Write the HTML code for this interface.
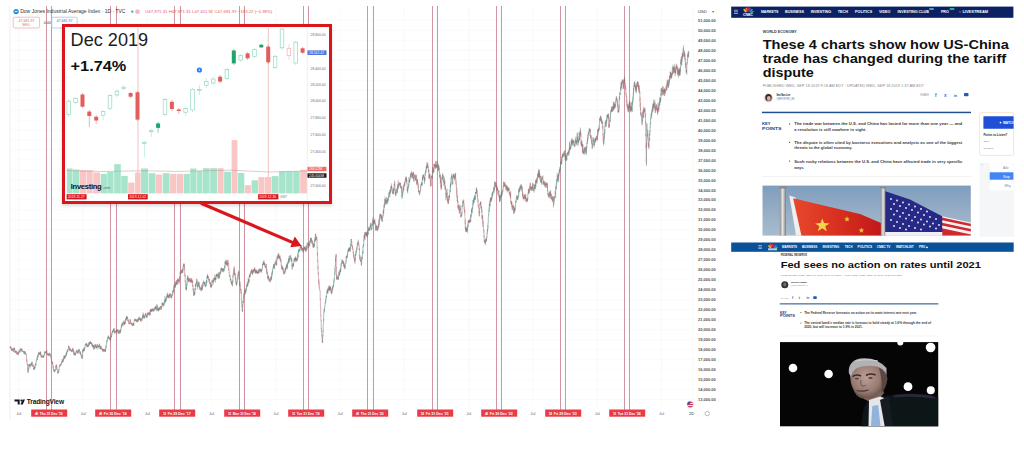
<!DOCTYPE html>
<html><head><meta charset="utf-8">
<style>
*{margin:0;padding:0;box-sizing:border-box}
html,body{width:1024px;height:449px;overflow:hidden;background:#fff;font-family:"Liberation Sans",sans-serif}
.abs{position:absolute}
svg text{font-family:"Liberation Sans",sans-serif}
#chart{position:absolute;left:0;top:0}
.nav{position:absolute;color:#fff;font-weight:bold;white-space:nowrap}
.nav span{position:absolute;top:0}
.t{position:absolute;white-space:nowrap}
</style></head>
<body>
<svg id="chart" width="1024" height="449" viewBox="0 0 1024 449">
  <line x1="10" x2="10" y1="6" y2="420" stroke="#e3e6ec" stroke-width="0.7"/>
  <line x1="10" x2="694" y1="399.5" y2="399.5" stroke="#f5f6f9" stroke-width="0.6"/><line x1="10" x2="694" y1="389.6" y2="389.6" stroke="#f5f6f9" stroke-width="0.6"/><line x1="10" x2="694" y1="379.6" y2="379.6" stroke="#f5f6f9" stroke-width="0.6"/><line x1="10" x2="694" y1="369.6" y2="369.6" stroke="#f5f6f9" stroke-width="0.6"/><line x1="10" x2="694" y1="359.6" y2="359.6" stroke="#f5f6f9" stroke-width="0.6"/><line x1="10" x2="694" y1="349.6" y2="349.6" stroke="#f5f6f9" stroke-width="0.6"/><line x1="10" x2="694" y1="339.7" y2="339.7" stroke="#f5f6f9" stroke-width="0.6"/><line x1="10" x2="694" y1="329.7" y2="329.7" stroke="#f5f6f9" stroke-width="0.6"/><line x1="10" x2="694" y1="319.7" y2="319.7" stroke="#f5f6f9" stroke-width="0.6"/><line x1="10" x2="694" y1="309.7" y2="309.7" stroke="#f5f6f9" stroke-width="0.6"/><line x1="10" x2="694" y1="299.7" y2="299.7" stroke="#f5f6f9" stroke-width="0.6"/><line x1="10" x2="694" y1="289.8" y2="289.8" stroke="#f5f6f9" stroke-width="0.6"/><line x1="10" x2="694" y1="279.8" y2="279.8" stroke="#f5f6f9" stroke-width="0.6"/><line x1="10" x2="694" y1="269.8" y2="269.8" stroke="#f5f6f9" stroke-width="0.6"/><line x1="10" x2="694" y1="259.8" y2="259.8" stroke="#f5f6f9" stroke-width="0.6"/><line x1="10" x2="694" y1="249.8" y2="249.8" stroke="#f5f6f9" stroke-width="0.6"/><line x1="10" x2="694" y1="239.9" y2="239.9" stroke="#f5f6f9" stroke-width="0.6"/><line x1="10" x2="694" y1="229.9" y2="229.9" stroke="#f5f6f9" stroke-width="0.6"/><line x1="10" x2="694" y1="219.9" y2="219.9" stroke="#f5f6f9" stroke-width="0.6"/><line x1="10" x2="694" y1="209.9" y2="209.9" stroke="#f5f6f9" stroke-width="0.6"/><line x1="10" x2="694" y1="199.9" y2="199.9" stroke="#f5f6f9" stroke-width="0.6"/><line x1="10" x2="694" y1="190.0" y2="190.0" stroke="#f5f6f9" stroke-width="0.6"/><line x1="10" x2="694" y1="180.0" y2="180.0" stroke="#f5f6f9" stroke-width="0.6"/><line x1="10" x2="694" y1="170.0" y2="170.0" stroke="#f5f6f9" stroke-width="0.6"/><line x1="10" x2="694" y1="160.0" y2="160.0" stroke="#f5f6f9" stroke-width="0.6"/><line x1="10" x2="694" y1="150.0" y2="150.0" stroke="#f5f6f9" stroke-width="0.6"/><line x1="10" x2="694" y1="140.1" y2="140.1" stroke="#f5f6f9" stroke-width="0.6"/><line x1="10" x2="694" y1="130.1" y2="130.1" stroke="#f5f6f9" stroke-width="0.6"/><line x1="10" x2="694" y1="120.1" y2="120.1" stroke="#f5f6f9" stroke-width="0.6"/><line x1="10" x2="694" y1="110.1" y2="110.1" stroke="#f5f6f9" stroke-width="0.6"/><line x1="10" x2="694" y1="100.1" y2="100.1" stroke="#f5f6f9" stroke-width="0.6"/><line x1="10" x2="694" y1="90.2" y2="90.2" stroke="#f5f6f9" stroke-width="0.6"/><line x1="10" x2="694" y1="80.2" y2="80.2" stroke="#f5f6f9" stroke-width="0.6"/><line x1="10" x2="694" y1="70.2" y2="70.2" stroke="#f5f6f9" stroke-width="0.6"/><line x1="10" x2="694" y1="60.2" y2="60.2" stroke="#f5f6f9" stroke-width="0.6"/><line x1="10" x2="694" y1="50.2" y2="50.2" stroke="#f5f6f9" stroke-width="0.6"/><line x1="10" x2="694" y1="40.3" y2="40.3" stroke="#f5f6f9" stroke-width="0.6"/><line x1="10" x2="694" y1="30.3" y2="30.3" stroke="#f5f6f9" stroke-width="0.6"/><line x1="10" x2="694" y1="20.3" y2="20.3" stroke="#f5f6f9" stroke-width="0.6"/><line x1="18.7" x2="18.7" y1="6" y2="405" stroke="#f4f5f8" stroke-width="0.6"/><line x1="50.8" x2="50.8" y1="6" y2="405" stroke="#f4f5f8" stroke-width="0.6"/><line x1="83.0" x2="83.0" y1="6" y2="405" stroke="#f4f5f8" stroke-width="0.6"/><line x1="115.1" x2="115.1" y1="6" y2="405" stroke="#f4f5f8" stroke-width="0.6"/><line x1="147.3" x2="147.3" y1="6" y2="405" stroke="#f4f5f8" stroke-width="0.6"/><line x1="179.4" x2="179.4" y1="6" y2="405" stroke="#f4f5f8" stroke-width="0.6"/><line x1="211.5" x2="211.5" y1="6" y2="405" stroke="#f4f5f8" stroke-width="0.6"/><line x1="243.7" x2="243.7" y1="6" y2="405" stroke="#f4f5f8" stroke-width="0.6"/><line x1="275.8" x2="275.8" y1="6" y2="405" stroke="#f4f5f8" stroke-width="0.6"/><line x1="308.0" x2="308.0" y1="6" y2="405" stroke="#f4f5f8" stroke-width="0.6"/><line x1="340.1" x2="340.1" y1="6" y2="405" stroke="#f4f5f8" stroke-width="0.6"/><line x1="372.2" x2="372.2" y1="6" y2="405" stroke="#f4f5f8" stroke-width="0.6"/><line x1="404.4" x2="404.4" y1="6" y2="405" stroke="#f4f5f8" stroke-width="0.6"/><line x1="436.5" x2="436.5" y1="6" y2="405" stroke="#f4f5f8" stroke-width="0.6"/><line x1="468.7" x2="468.7" y1="6" y2="405" stroke="#f4f5f8" stroke-width="0.6"/><line x1="500.8" x2="500.8" y1="6" y2="405" stroke="#f4f5f8" stroke-width="0.6"/><line x1="532.9" x2="532.9" y1="6" y2="405" stroke="#f4f5f8" stroke-width="0.6"/><line x1="565.1" x2="565.1" y1="6" y2="405" stroke="#f4f5f8" stroke-width="0.6"/><line x1="597.2" x2="597.2" y1="6" y2="405" stroke="#f4f5f8" stroke-width="0.6"/><line x1="629.4" x2="629.4" y1="6" y2="405" stroke="#f4f5f8" stroke-width="0.6"/><line x1="661.5" x2="661.5" y1="6" y2="405" stroke="#f4f5f8" stroke-width="0.6"/><line x1="693.6" x2="693.6" y1="6" y2="405" stroke="#f4f5f8" stroke-width="0.6"/>
  <g stroke="#d294a0" stroke-width="1"><line x1="46.5" x2="46.5" y1="6" y2="410" /><line x1="51.5" x2="51.5" y1="6" y2="410" /><line x1="110.5" x2="110.5" y1="6" y2="410" /><line x1="116.5" x2="116.5" y1="6" y2="410" /><line x1="174.5" x2="174.5" y1="6" y2="410" /><line x1="180.5" x2="180.5" y1="6" y2="410" /><line x1="239.5" x2="239.5" y1="6" y2="410" /><line x1="244.5" x2="244.5" y1="6" y2="410" /><line x1="303.5" x2="303.5" y1="6" y2="410" /><line x1="308.5" x2="308.5" y1="6" y2="410" /><line x1="367.5" x2="367.5" y1="6" y2="410" /><line x1="373.5" x2="373.5" y1="6" y2="410" /><line x1="432.5" x2="432.5" y1="6" y2="410" /><line x1="437.5" x2="437.5" y1="6" y2="410" /><line x1="496.5" x2="496.5" y1="6" y2="410" /><line x1="501.5" x2="501.5" y1="6" y2="410" /><line x1="560.5" x2="560.5" y1="6" y2="410" /><line x1="565.5" x2="565.5" y1="6" y2="410" /><line x1="624.5" x2="624.5" y1="6" y2="410" /><line x1="629.5" x2="629.5" y1="6" y2="410" /></g>
  <path d="M10.1 346.6V348.5M11.9 349.4V351.1M12.2 349.5V350.7M12.4 348.1V349.5M13.7 349.4V351.8M14.0 347.8V350.2M14.2 347.4V349.2M15.5 350.9V352.6M16.8 353.1V354.1M17.3 352.7V354.6M17.5 352.6V354.0M17.8 352.1V353.2M18.3 352.3V355.3M18.8 352.4V352.9M19.1 351.3V353.1M19.3 350.4V352.1M20.1 351.1V352.4M20.3 348.2V351.3M20.9 348.4V350.0M21.6 350.0V351.4M21.9 349.0V350.6M22.6 351.1V351.6M23.2 351.2V352.2M23.4 351.1V351.7M23.9 352.6V353.7M24.2 352.7V353.7M24.4 351.2V353.0M24.7 351.2V354.6M24.9 351.4V353.4M25.7 353.1V354.1M28.3 368.0V372.4M28.5 365.2V370.1M28.8 364.1V366.6M29.3 364.2V365.7M30.0 365.0V367.1M30.3 364.8V365.7M31.3 362.8V366.0M31.6 362.3V364.5M34.4 366.9V369.6M34.6 366.1V369.7M35.1 364.7V368.2M35.4 364.1V365.2M35.7 363.2V365.2M35.9 362.4V365.7M36.2 360.8V362.5M36.4 360.6V361.5M36.7 358.6V361.0M37.2 357.1V359.8M37.4 355.8V359.9M37.7 355.3V356.6M38.2 354.7V357.0M38.5 353.2V355.0M38.7 352.2V353.9M39.2 353.4V354.7M39.5 353.3V354.4M39.7 352.5V354.1M40.0 351.6V355.1M40.5 351.5V355.5M41.3 356.5V357.4M41.5 355.6V357.6M41.8 355.1V356.3M42.8 356.4V357.7M43.1 356.1V357.9M43.3 356.2V357.9M43.6 355.7V357.2M43.8 354.9V356.5M44.1 354.8V356.4M44.3 354.1V355.1M44.6 352.2V355.0M44.8 350.7V353.7M45.6 352.2V352.9M45.9 351.5V353.1M46.4 352.1V352.4M46.6 350.4V353.0M47.6 353.6V354.7M48.4 354.1V355.9M48.7 353.6V355.0M49.2 353.4V356.1M49.4 353.2V354.8M49.9 354.3V354.9M50.5 355.0V356.7M53.8 368.7V370.7M54.8 369.6V371.9M55.0 370.3V371.1M55.3 369.2V371.1M55.6 366.9V369.5M55.8 365.7V367.3M56.1 364.9V366.8M57.9 372.0V373.7M58.4 370.9V372.9M58.6 370.2V371.2M58.9 369.0V371.9M59.1 367.3V369.8M59.4 366.5V367.4M59.6 364.7V367.4M60.4 363.9V366.3M60.9 364.1V365.3M61.4 363.3V364.6M61.7 362.1V364.1M61.9 360.9V363.3M62.4 361.0V362.3M63.0 359.4V362.1M63.2 358.4V361.4M63.7 357.1V359.4M64.0 355.5V358.6M64.2 355.4V357.5M64.7 355.6V358.9M65.5 355.5V357.5M65.8 355.3V356.6M66.0 353.1V355.9M66.5 352.2V356.0M66.8 351.5V353.9M67.0 350.7V353.2M67.3 350.5V351.7M67.8 349.1V351.6M68.1 349.1V350.5M68.3 348.6V349.4M68.6 345.6V348.2M69.8 349.4V351.1M70.1 348.3V349.8M70.4 348.3V349.4M71.4 349.9V350.9M72.1 350.4V351.8M72.4 348.7V350.8M72.9 348.9V349.9M73.9 352.2V353.6M74.7 353.2V355.5M75.5 353.7V355.2M75.7 352.0V354.4M76.5 350.2V353.3M77.2 350.7V352.5M77.5 351.5V352.8M78.3 351.1V352.9M78.5 349.5V351.9M78.8 349.4V350.8M79.3 349.6V350.6M80.3 352.2V353.6M82.1 357.4V359.0M82.4 355.0V358.4M82.6 350.5V356.9M82.9 349.1V352.5M83.4 348.9V351.1M83.6 348.6V350.6M84.4 347.6V350.8M84.6 347.5V348.3M84.9 346.4V348.7M85.2 344.4V346.4M85.7 343.9V345.4M85.9 343.8V345.5M86.2 343.4V345.2M86.4 343.3V344.7M86.9 345.8V347.2M87.2 344.4V346.6M88.0 345.2V347.2M88.2 344.6V347.2M88.5 344.9V346.1M88.7 342.8V345.2M89.2 343.3V345.0M89.5 341.7V345.4M89.7 342.1V343.7M90.0 342.1V343.5M90.3 340.8V343.3M90.8 342.0V344.1M91.3 342.8V343.9M91.5 342.3V344.8M92.6 344.2V347.3M92.8 344.8V345.9M93.6 345.0V349.6M93.8 345.6V346.8M94.1 344.9V347.0M94.6 347.1V348.9M94.9 346.7V348.2M95.1 345.4V347.9M95.6 344.4V346.8M95.9 344.0V346.6M96.4 346.5V347.6M96.6 346.1V348.2M97.1 345.6V349.4M97.4 344.0V346.5M98.2 345.7V346.8M98.4 345.8V348.4M98.9 346.1V347.3M99.2 344.9V347.5M99.4 343.4V345.3M100.2 347.0V349.5M100.5 347.1V349.0M100.7 346.1V348.9M102.5 349.4V350.5M103.0 350.5V352.2M103.3 349.2V351.5M103.5 349.5V351.2M103.8 348.8V350.6M104.0 349.3V350.4M104.5 350.3V351.0M105.3 349.2V351.6M105.6 348.1V352.0M105.8 345.8V349.0M106.1 345.3V347.9M106.3 344.0V346.3M106.6 342.3V343.8M106.8 340.4V343.5M107.1 339.6V341.8M107.4 339.4V341.1M107.6 337.1V339.5M107.9 336.6V339.2M108.1 337.0V338.0M108.4 335.6V337.6M109.1 337.6V338.9M109.7 338.1V339.9M109.9 338.1V338.9M110.7 335.9V340.1M110.9 335.2V338.7M111.7 333.0V336.8M111.9 332.4V335.0M112.2 331.1V332.3M112.5 331.1V333.1M112.7 329.9V332.1M113.5 329.3V332.1M113.7 328.7V330.7M114.0 328.5V330.5M114.8 332.0V333.9M115.0 331.8V332.5M115.3 331.4V332.4M116.3 330.4V333.7M116.5 329.8V330.9M117.3 329.2V333.4M118.1 329.3V331.5M118.3 330.0V331.7M119.1 331.9V334.0M119.3 331.1V334.1M120.1 330.5V331.9M120.6 329.1V333.5M120.9 328.4V330.4M121.1 327.4V328.7M121.4 324.6V327.9M121.9 324.0V326.7M122.2 323.2V325.6M122.4 323.2V324.4M122.7 321.9V324.2M122.9 323.5V325.5M123.4 322.7V323.6M123.9 320.3V323.2M124.7 321.9V324.9M125.0 322.1V324.2M125.2 320.7V323.5M125.5 318.4V322.3M125.7 318.6V319.0M126.2 317.5V320.2M126.5 315.7V319.1M127.0 317.5V319.0M127.3 316.3V318.8M129.3 323.0V324.2M129.8 320.3V322.8M130.1 319.0V320.7M131.6 323.3V324.6M131.8 322.7V324.4M132.6 325.0V325.7M133.1 324.4V326.2M133.4 323.6V325.5M133.6 322.9V325.6M133.9 321.9V325.0M134.1 320.4V321.7M134.4 319.4V320.9M134.9 318.7V320.1M135.7 319.7V320.5M136.4 319.7V321.8M137.5 320.3V322.5M137.7 319.3V320.4M138.0 318.9V319.6M138.5 318.9V321.2M139.0 316.5V319.6M139.2 317.6V320.3M141.3 319.2V321.6M141.8 319.8V320.3M142.1 317.0V320.5M142.3 316.8V319.0M142.6 315.0V318.2M143.1 312.3V316.3M143.8 316.5V318.8M144.1 315.6V318.5M144.6 315.7V318.3M144.9 315.2V317.7M145.4 313.9V315.2M146.1 314.5V316.9M146.6 315.9V318.1M147.4 312.4V317.4M147.9 313.0V314.9M148.2 312.9V314.7M149.5 313.3V313.9M150.0 310.9V315.1M150.2 310.1V315.1M151.2 308.8V311.7M151.8 309.6V312.1M152.8 308.4V311.2M153.5 309.5V311.3M153.8 310.1V311.9M154.0 309.4V310.9M154.3 307.7V310.7M154.6 307.5V308.7M155.6 305.8V308.2M156.6 306.4V311.1M156.9 304.1V307.8M157.9 309.7V311.0M158.1 308.2V310.4M158.4 309.0V311.7M158.6 307.5V310.6M158.9 308.0V308.8M159.4 307.5V309.3M159.9 308.2V310.1M160.2 306.8V309.1M160.4 306.3V307.1M160.7 306.4V307.6M161.2 306.6V310.0M161.4 307.3V308.0M161.7 305.0V308.3M162.0 302.2V305.5M163.2 305.0V305.4M163.5 304.6V305.7M163.7 303.3V304.9M164.0 302.8V305.8M164.3 300.5V304.4M164.8 300.2V303.3M165.0 295.9V302.7M165.8 298.6V302.1M166.0 299.4V300.8M166.3 297.5V300.3M166.6 297.6V299.2M166.8 295.5V298.1M167.1 294.5V297.5M167.3 293.4V297.2M168.1 295.5V297.9M168.8 294.7V297.8M169.4 293.1V296.2M169.6 294.8V297.3M169.9 294.1V295.6M170.1 293.6V295.3M171.1 295.0V298.1M171.4 296.6V298.2M171.9 294.0V296.3M172.4 293.3V295.6M172.7 290.9V294.5M172.9 290.8V292.2M173.2 289.7V293.4M173.7 286.4V292.1M173.9 286.5V288.9M174.2 284.0V287.3M174.5 284.6V286.3M174.7 284.7V286.6M175.5 283.9V287.9M175.7 281.1V284.7M176.2 283.2V284.7M176.8 281.4V285.2M177.0 280.1V282.6M177.5 282.0V284.6M177.8 278.1V281.0M179.3 278.4V282.1M179.6 276.4V280.7M179.8 276.8V278.2M180.1 272.5V277.8M180.8 271.6V273.3M181.1 269.5V273.5M181.9 271.5V272.0M182.1 270.3V271.6M182.6 269.0V273.0M182.9 268.3V272.8M183.1 266.3V269.8M183.4 265.0V267.2M183.6 263.7V266.1M186.5 286.1V289.9M186.7 283.1V288.6M187.0 282.0V286.1M187.2 278.2V283.0M187.5 276.6V280.4M187.7 275.1V279.5M188.5 279.6V281.1M188.7 278.6V282.1M189.3 279.1V282.2M189.8 278.9V281.2M191.0 280.0V281.9M191.6 278.4V282.3M192.1 280.9V283.2M192.8 285.0V285.5M193.9 291.6V295.6M194.6 292.0V295.4M194.9 288.2V293.8M195.1 288.6V289.5M195.4 284.5V290.4M195.6 283.9V286.3M195.9 283.7V286.9M196.1 282.2V285.5M196.4 282.3V284.2M196.7 278.7V282.3M197.7 284.0V287.2M197.9 285.8V287.1M198.2 284.1V287.0M198.4 281.3V286.8M200.0 286.7V289.9M201.3 287.8V291.3M201.5 287.6V289.2M201.8 285.3V290.2M202.5 284.2V290.1M202.8 283.0V284.1M203.0 282.2V283.6M203.3 280.6V283.0M204.1 282.8V285.7M204.6 282.2V284.0M204.8 281.5V285.1M205.6 284.9V287.3M205.8 285.3V286.3M206.1 284.0V286.2M206.4 280.8V285.0M206.6 280.0V283.5M206.9 276.7V282.6M207.1 276.1V278.3M207.4 274.3V278.3M207.9 275.7V277.3M208.4 277.1V278.3M209.9 281.8V283.6M210.4 282.3V286.0M211.2 284.3V287.4M211.7 284.3V287.1M212.0 280.2V285.8M212.7 280.8V282.4M213.2 280.2V284.7M213.5 279.5V281.8M213.8 277.8V281.6M214.0 277.8V280.9M214.5 277.5V279.9M215.3 278.1V282.7M215.5 277.6V279.7M215.8 276.6V279.4M216.0 274.8V279.4M216.3 275.4V276.5M216.6 274.1V276.7M216.8 273.4V276.5M217.6 274.9V276.3M218.3 274.9V279.0M218.6 272.3V276.8M219.6 272.8V277.6M219.9 272.6V275.5M220.1 271.1V273.6M220.6 270.7V274.0M220.9 267.8V272.3M221.7 268.2V270.8M222.2 269.6V271.4M222.7 268.3V272.1M223.7 268.6V270.8M224.2 269.1V271.3M224.5 267.1V269.1M224.7 265.1V267.9M225.0 261.1V268.5M225.2 261.6V263.8M226.0 259.8V265.1M227.3 264.0V266.3M227.5 262.1V266.3M230.3 277.9V280.7M231.6 281.2V284.2M232.6 280.2V286.5M232.9 276.0V282.8M233.1 273.7V277.4M233.4 271.8V275.8M233.7 269.9V272.9M233.9 267.9V271.5M236.5 282.7V286.0M236.7 282.4V284.6M237.0 279.8V284.1M237.2 278.7V282.2M237.7 275.3V279.5M238.0 273.8V277.1M238.2 272.4V275.5M238.5 271.3V273.8M239.8 281.2V286.3M242.6 304.0V311.9M242.8 300.6V305.5M243.1 300.9V302.9M243.4 297.5V302.6M243.6 295.1V298.9M243.9 293.9V297.3M244.4 293.2V294.3M244.6 290.5V294.5M244.9 290.2V291.9M245.6 289.9V293.7M245.9 288.8V292.2M246.2 288.4V290.9M246.4 286.3V289.5M246.7 285.1V287.6M246.9 283.7V286.4M247.4 284.8V286.1M247.7 282.0V287.1M247.9 281.1V285.4M248.2 277.8V281.8M248.7 280.4V282.3M249.0 279.6V283.2M249.2 275.5V281.1M249.7 274.1V277.1M250.0 274.9V277.6M250.2 273.3V276.7M250.7 271.2V273.9M251.3 270.7V274.0M251.8 270.7V272.1M252.5 271.4V274.7M252.8 270.8V273.2M253.6 268.8V271.3M254.3 268.3V271.0M254.6 267.2V270.5M255.3 270.3V273.6M255.6 270.9V272.8M256.4 270.3V272.9M257.1 271.8V273.0M257.4 272.2V273.3M258.1 271.5V273.9M258.7 269.1V273.1M259.2 269.5V272.7M259.4 268.4V270.7M260.2 269.5V270.7M260.4 268.8V270.8M261.2 270.1V273.0M261.5 269.2V272.1M261.7 270.0V270.7M262.0 268.7V270.5M262.2 267.1V269.5M262.5 264.1V267.9M262.7 263.5V265.4M263.3 261.7V265.0M263.5 261.6V263.9M263.8 261.7V265.1M264.0 260.1V263.8M265.3 266.7V267.2M266.1 264.2V268.7M267.1 271.6V274.3M268.1 275.8V278.8M268.6 276.9V278.1M269.1 279.0V280.7M270.4 280.2V281.3M270.7 277.0V281.3M270.9 277.2V279.7M271.4 276.5V279.5M271.7 273.9V278.5M271.9 272.1V276.3M272.2 272.6V273.8M272.4 270.0V274.3M272.7 268.2V272.3M272.9 268.4V268.8M273.2 266.2V268.6M273.5 264.0V267.6M274.2 266.3V269.0M274.5 264.0V268.5M274.7 263.6V266.5M275.0 262.2V264.8M275.5 263.0V264.7M275.8 259.8V263.6M276.8 258.3V265.5M277.0 256.9V259.4M277.8 254.9V259.5M278.1 255.6V257.2M278.3 253.2V257.0M279.1 256.0V258.4M279.6 256.1V258.5M280.3 258.1V259.5M280.9 259.5V262.4M281.9 268.1V269.4M282.1 268.3V269.0M282.4 267.0V269.7M283.7 273.4V274.5M283.9 272.6V273.7M284.2 270.8V273.0M284.4 271.8V272.9M284.9 269.1V273.5M285.5 267.5V271.7M285.7 267.3V269.0M286.2 265.1V269.7M286.5 263.5V267.4M286.7 265.2V266.5M287.5 263.5V268.9M287.7 262.1V265.8M288.0 261.1V263.9M288.3 260.6V263.1M288.5 259.0V262.8M288.8 258.0V263.4M289.0 255.9V259.3M289.8 259.4V262.0M290.0 255.4V259.9M290.3 255.5V257.1M290.8 257.4V259.1M292.3 265.5V269.6M292.6 263.4V266.4M292.8 264.0V266.3M293.6 262.4V266.1M293.9 260.5V262.2M294.1 258.8V262.4M294.4 258.1V260.5M294.6 258.8V260.7M295.1 257.5V260.3M295.4 256.8V259.9M295.9 258.4V260.4M296.2 258.2V262.2M296.9 257.8V261.1M297.2 258.5V260.5M297.4 256.4V260.1M297.7 253.3V256.6M298.2 251.3V258.1M298.5 249.9V252.5M298.7 249.3V252.6M299.0 250.7V252.6M299.2 248.7V250.7M299.7 249.1V250.8M300.0 247.3V251.5M300.5 245.5V248.3M301.0 245.7V247.4M301.8 247.3V250.9M302.3 248.5V250.7M303.6 248.7V251.3M303.8 248.0V250.5M304.3 246.6V249.5M305.1 247.6V250.0M305.4 247.4V250.1M305.9 248.8V251.3M306.4 247.8V251.3M306.9 244.8V249.5M307.1 242.5V248.5M307.6 244.6V245.4M308.7 241.9V247.6M308.9 242.6V245.0M309.4 243.8V245.8M309.7 241.9V246.1M309.9 240.5V243.3M310.2 240.0V242.4M310.5 238.1V242.4M311.0 237.8V241.4M312.0 241.2V243.1M313.5 243.0V247.6M313.8 245.9V247.0M314.0 244.0V247.7M314.5 240.3V246.5M314.8 238.8V242.4M315.0 237.0V241.5M315.3 233.8V240.0M316.1 237.8V240.1M316.6 236.7V239.7M322.7 335.0V342.8M323.0 330.5V335.9M323.2 324.0V331.9M323.5 319.4V323.9M323.7 311.9V320.5M324.0 308.8V312.2M324.5 306.5V312.3M324.7 306.7V307.3M325.0 303.1V306.6M325.3 302.3V303.6M325.5 300.5V303.4M325.8 298.7V302.4M326.0 296.3V300.1M326.3 295.4V298.1M326.5 294.3V297.4M326.8 292.1V294.0M327.0 290.5V293.0M327.3 289.9V292.4M327.8 289.5V293.8M328.1 287.6V291.7M328.6 288.5V290.5M328.8 287.0V289.3M329.1 285.0V288.3M329.6 287.6V290.4M330.1 286.9V291.3M331.9 290.2V292.4M332.1 287.8V293.2M332.4 286.1V289.8M332.9 286.8V288.5M333.2 284.7V287.5M333.4 284.4V286.7M333.7 281.7V286.1M333.9 279.6V282.9M334.2 278.6V281.7M334.4 276.4V279.3M334.7 272.7V276.4M334.9 267.7V275.0M335.2 265.3V272.7M335.5 258.2V266.2M335.7 256.3V261.5M336.0 254.2V257.6M336.7 275.7V279.9M337.2 278.0V279.4M337.5 276.6V278.2M338.3 276.5V278.8M338.5 275.0V280.0M338.8 271.5V276.8M339.5 273.5V275.4M339.8 270.0V274.8M340.1 269.4V272.6M340.6 267.4V272.1M340.8 266.6V270.4M341.1 263.6V267.2M341.3 263.6V266.1M341.6 262.3V264.2M341.8 260.2V262.8M342.1 259.2V260.6M342.6 261.1V263.6M343.4 260.6V264.1M344.4 267.0V268.8M344.6 264.2V267.7M345.2 265.0V268.4M345.4 264.2V265.8M345.7 262.8V264.1M345.9 260.3V263.6M346.2 256.0V262.2M346.4 255.8V258.7M347.2 255.5V257.9M347.5 253.2V256.4M347.7 251.2V254.9M348.0 249.7V251.2M348.5 248.4V252.1M349.0 247.7V250.9M349.7 247.4V251.6M350.3 247.6V251.0M350.5 244.1V248.6M350.8 243.4V245.6M351.0 239.2V245.5M353.8 255.1V256.4M355.1 257.4V262.2M355.4 253.7V259.9M355.6 254.2V256.1M355.9 250.8V255.3M356.1 250.8V254.2M356.4 249.4V252.1M356.6 248.4V250.3M356.9 246.9V248.5M357.1 244.6V250.0M357.4 242.1V246.1M357.7 243.0V244.6M358.2 239.7V243.0M358.7 243.2V244.1M361.5 262.5V266.0M361.7 256.9V263.4M362.0 256.5V259.8M362.3 254.6V259.1M362.5 252.2V254.8M362.8 250.3V254.1M363.0 245.6V253.0M363.3 244.9V247.7M363.8 239.4V245.1M364.0 235.3V241.1M364.3 234.5V237.7M364.8 236.8V238.5M365.1 234.0V239.6M365.3 232.1V235.4M365.8 233.6V235.3M366.3 233.6V236.2M366.8 231.5V236.0M367.4 232.9V237.6M368.1 232.7V234.9M368.4 228.8V234.1M368.6 226.7V231.0M369.1 228.0V229.6M369.4 227.7V230.6M369.9 226.9V231.1M370.2 224.8V227.6M370.4 224.4V227.4M370.7 223.2V225.3M371.4 228.3V229.9M371.7 227.5V230.1M371.9 223.6V228.8M372.2 223.5V226.5M372.5 221.2V225.6M372.7 219.1V221.8M373.5 220.2V223.6M374.0 221.0V224.8M374.2 219.6V223.8M375.5 223.1V230.6M376.3 224.9V230.5M377.6 226.4V230.0M378.1 225.9V230.1M378.8 219.7V227.4M379.3 217.7V225.1M379.6 215.7V221.1M379.9 214.1V218.2M380.6 215.1V215.8M381.4 216.2V220.4M382.4 218.3V221.8M382.7 216.9V218.5M382.9 215.1V217.4M383.2 210.8V216.2M383.4 210.0V213.3M383.7 208.8V214.5M383.9 205.5V210.1M384.4 202.2V208.0M384.7 199.0V205.2M385.2 200.3V200.9M386.0 200.5V204.1M386.5 201.8V203.6M386.7 197.2V202.5M387.3 200.1V201.6M387.8 199.5V203.7M388.0 198.5V201.0M388.3 197.7V200.5M388.5 196.4V197.7M388.8 192.6V198.4M389.0 193.8V196.8M389.3 192.4V194.5M389.6 191.3V193.9M389.8 189.6V197.2M390.3 190.2V192.9M390.6 188.8V192.3M391.1 185.9V191.5M392.9 191.5V193.4M393.1 189.8V192.2M393.4 187.4V194.5M393.6 189.0V193.8M394.1 184.3V191.0M394.4 182.3V185.3M395.9 192.4V195.8M396.2 191.3V193.8M396.4 189.9V190.8M396.7 189.1V193.6M397.5 184.8V192.9M397.7 186.6V189.1M398.0 184.1V187.9M398.5 184.2V188.9M398.7 184.7V185.8M399.0 182.5V184.0M399.5 183.6V185.0M399.8 183.0V185.1M400.3 182.9V185.2M401.3 186.5V189.6M402.1 194.3V198.9M402.3 194.7V196.7M402.6 192.0V195.7M402.8 189.6V194.4M403.1 186.8V192.2M403.6 187.6V189.9M403.8 184.9V189.7M404.1 184.2V185.9M404.4 181.9V185.9M404.9 182.4V185.2M405.1 181.6V182.8M405.4 179.2V181.9M405.9 176.2V180.8M407.4 189.4V192.2M407.7 187.0V193.3M407.9 187.1V190.3M408.2 186.4V188.1M408.4 184.7V188.0M408.7 183.6V186.4M408.9 177.0V185.1M409.2 180.4V182.8M409.5 179.0V182.7M409.7 179.6V182.2M410.0 177.9V180.3M410.2 176.1V179.1M410.5 173.1V176.9M411.0 172.8V178.1M411.2 175.1V177.4M411.5 170.8V175.4M412.5 174.6V177.3M412.8 172.9V179.0M413.3 172.4V175.4M414.0 177.7V182.0M414.3 177.1V178.2M415.6 177.6V180.6M416.1 174.4V178.8M417.1 179.5V184.7M419.7 191.1V195.2M419.9 190.6V193.9M420.4 187.7V191.4M420.7 185.9V189.3M420.9 184.7V187.0M421.2 183.3V185.9M421.7 182.1V185.2M422.2 178.6V185.6M422.5 177.0V180.4M422.7 174.8V180.1M424.5 177.1V183.8M425.0 173.2V180.7M425.3 172.2V175.6M425.5 171.2V172.4M425.8 170.0V172.8M426.0 167.4V172.9M426.3 166.4V168.2M426.5 165.5V169.7M427.1 165.4V167.8M427.3 163.6V166.8M427.6 163.9V165.8M428.6 169.8V172.3M429.4 173.2V176.4M429.6 173.8V178.3M430.1 175.9V178.7M431.1 181.3V186.0M431.4 175.9V181.5M432.4 170.9V179.1M432.7 167.0V173.5M433.4 169.8V173.2M433.9 164.2V172.3M434.2 163.8V167.2M435.2 164.6V168.8M435.7 161.2V168.8M436.2 165.8V167.5M436.5 165.1V167.5M437.0 161.3V167.8M438.0 165.5V170.7M438.5 165.4V170.8M439.1 165.7V169.5M440.1 174.2V178.6M441.3 183.8V189.2M441.6 181.3V188.3M441.9 177.3V181.8M442.1 176.6V180.0M442.4 175.4V179.4M442.6 173.3V177.3M443.9 181.9V185.9M444.4 176.9V185.6M446.2 195.8V198.2M446.5 195.7V196.7M446.7 189.2V196.8M448.5 199.0V203.8M449.0 195.1V200.6M449.3 195.6V197.8M449.5 193.1V198.4M449.8 191.5V193.2M450.0 189.1V192.1M450.3 184.2V192.2M450.5 183.6V188.2M450.8 181.6V186.4M451.0 178.1V184.6M451.3 176.1V179.9M451.6 173.7V178.1M452.6 182.4V184.7M452.8 176.3V184.3M453.1 174.5V178.9M453.3 173.6V177.4M454.4 176.7V178.5M454.9 174.6V180.8M455.4 172.9V177.7M458.4 206.6V209.1M459.5 209.0V212.8M459.7 204.7V209.8M461.0 214.6V217.6M461.2 214.8V217.3M461.8 212.0V215.7M462.0 205.8V213.5M462.3 205.2V206.8M462.5 202.4V206.7M462.8 201.1V202.7M463.5 200.8V203.9M466.1 227.6V230.8M466.6 227.7V231.9M467.4 228.7V233.1M467.6 225.2V230.1M467.9 223.7V227.5M468.1 221.4V226.9M468.4 220.2V222.6M469.4 220.1V222.4M469.9 218.2V221.9M470.7 214.1V222.2M470.9 214.9V218.3M471.2 214.7V216.9M471.5 209.3V215.2M471.7 208.5V212.9M472.2 209.6V213.3M472.5 207.1V209.6M472.7 203.5V208.7M473.0 200.2V206.1M473.2 200.1V203.3M473.8 200.7V203.5M474.0 198.0V200.5M474.3 196.6V202.1M474.5 196.4V199.4M474.8 195.6V199.9M475.0 195.3V198.8M475.3 192.6V200.2M475.5 192.0V193.3M475.8 191.9V193.4M476.3 187.9V193.2M476.6 187.5V193.4M479.4 211.0V216.5M479.6 207.9V211.9M479.9 203.6V208.4M480.1 202.8V205.3M481.2 205.9V208.3M482.2 215.1V218.6M482.4 216.7V218.5M484.7 241.7V242.5M485.0 240.6V243.9M485.5 240.6V245.2M485.7 239.1V242.5M486.0 238.1V240.7M486.5 238.1V241.7M486.8 236.2V238.5M487.0 232.7V237.4M487.3 229.2V234.2M487.5 228.8V232.0M487.8 224.9V230.1M488.0 222.6V228.2M488.3 217.2V223.1M488.6 214.1V217.5M488.8 210.5V215.2M489.1 207.4V212.1M489.3 203.6V210.7M489.8 201.1V206.3M490.1 200.2V207.1M490.3 197.7V202.4M491.1 197.9V201.9M491.6 196.4V199.8M491.9 194.3V199.3M492.1 193.3V194.7M492.4 192.1V197.3M492.6 192.3V195.8M492.9 192.5V193.2M493.1 191.0V194.4M493.7 187.6V191.4M494.2 188.3V192.7M494.4 187.0V189.8M494.7 181.6V189.2M495.2 182.6V186.1M495.7 185.5V187.2M496.0 183.1V186.5M497.0 187.9V190.2M497.2 185.8V189.8M498.0 193.0V194.8M498.2 191.9V195.7M498.5 190.9V192.4M499.5 195.0V201.8M500.0 198.3V201.3M500.3 196.0V200.4M500.8 194.8V198.4M501.1 193.4V195.4M501.6 194.6V196.8M501.8 192.0V196.1M502.1 190.9V194.8M502.3 191.2V193.9M502.8 189.1V192.2M503.1 187.5V189.5M503.3 184.8V188.2M503.6 181.8V187.0M504.9 184.0V186.3M506.4 185.5V188.6M506.9 187.9V190.4M507.2 186.0V191.3M507.7 189.3V192.5M507.9 187.3V190.2M508.2 188.6V191.2M508.7 187.5V189.3M509.5 192.8V195.3M510.5 193.6V198.3M511.5 200.9V204.7M512.3 206.0V210.4M513.3 205.5V207.8M513.8 209.2V214.0M514.1 206.8V210.0M514.6 208.2V212.7M515.1 207.5V210.6M515.3 206.1V209.0M515.6 201.1V206.8M515.9 200.5V203.0M516.1 199.4V202.1M516.4 197.4V200.3M516.6 195.3V198.7M517.4 197.3V199.7M517.9 195.6V199.4M518.1 195.3V198.4M518.4 194.9V196.3M518.7 188.3V196.4M518.9 189.8V193.8M519.2 190.8V192.1M519.4 188.8V191.0M519.7 186.5V191.9M520.2 187.5V189.7M520.4 184.4V188.5M520.7 185.8V188.9M521.0 186.5V187.1M521.2 185.2V187.3M523.3 195.4V199.2M524.0 196.1V199.2M524.3 194.9V197.2M524.8 195.3V197.3M525.5 196.8V199.1M526.3 198.5V201.0M527.3 198.4V201.6M527.6 197.7V200.8M527.8 194.3V199.3M528.1 192.6V194.7M528.4 188.6V194.0M529.4 190.0V193.1M529.6 186.4V190.7M529.9 185.1V188.8M531.2 187.1V190.5M531.7 186.6V189.1M532.2 186.9V191.0M532.4 185.5V189.6M534.2 185.2V191.0M534.5 186.4V188.4M534.7 184.4V188.9M535.0 184.3V188.4M535.2 184.3V185.9M535.5 180.4V189.4M536.0 179.4V187.2M536.3 179.7V183.1M536.8 180.3V182.1M537.0 177.3V183.7M537.3 178.1V180.9M537.5 173.6V178.2M538.3 171.5V177.8M538.8 168.9V177.0M539.6 172.9V177.7M540.1 176.0V179.2M540.6 179.4V182.6M540.9 181.5V182.0M541.1 178.6V182.5M541.6 180.1V182.4M541.9 178.8V184.4M542.1 177.6V179.8M542.4 178.0V179.5M542.6 176.2V178.7M544.2 180.8V184.7M545.4 181.6V187.6M545.7 183.1V184.9M546.0 183.4V185.1M546.2 184.3V185.2M546.5 183.2V185.1M548.5 194.1V195.3M548.8 194.2V197.5M549.0 191.2V196.9M549.5 194.1V195.7M549.8 192.0V193.9M550.3 190.4V194.3M550.8 193.4V196.8M551.6 197.2V200.3M552.1 197.0V198.3M552.8 197.4V202.2M553.6 203.2V205.5M553.9 201.1V204.3M554.1 199.1V202.3M554.4 196.3V200.6M554.9 196.4V198.7M555.1 190.9V196.3M555.7 187.0V197.9M555.9 184.6V190.4M556.4 182.4V189.0M556.7 179.6V184.4M556.9 179.1V182.9M557.2 173.2V181.0M557.7 177.8V181.2M558.0 175.2V180.5M558.2 173.3V177.8M558.7 173.8V182.4M559.0 171.8V176.2M559.2 170.2V172.9M559.5 168.9V173.7M560.0 166.8V171.7M560.2 166.5V169.9M560.5 161.6V167.6M560.8 161.2V162.7M561.0 162.5V165.3M561.3 161.8V163.7M561.5 157.0V163.9M561.8 159.3V164.4M562.0 155.9V161.2M562.5 153.7V157.7M562.8 154.7V158.0M563.1 154.4V156.0M563.3 153.1V154.7M563.8 154.1V156.6M564.1 154.4V156.8M564.3 152.9V154.0M564.6 151.0V154.5M565.4 153.7V161.2M565.6 154.9V157.7M565.9 154.7V156.7M566.4 155.6V160.7M566.6 157.4V160.1M566.9 154.9V160.3M567.1 153.3V156.1M567.4 152.1V154.3M567.6 152.9V154.5M567.9 152.5V154.8M568.2 152.6V155.0M568.7 152.0V153.3M568.9 150.1V156.0M569.2 148.4V153.3M569.4 142.7V151.8M569.9 146.4V149.8M570.7 144.6V149.2M571.0 143.6V148.1M571.2 140.4V144.2M571.5 140.7V145.9M571.7 138.8V144.0M572.0 138.0V143.0M572.5 140.6V145.5M573.3 139.6V146.0M574.8 144.4V147.2M575.0 142.4V146.2M575.3 139.3V143.8M576.3 140.5V145.0M576.6 140.9V144.6M576.8 136.7V142.6M577.1 133.6V137.8M578.1 140.9V144.5M578.4 141.7V143.0M578.6 138.8V142.6M578.9 132.3V141.4M579.1 136.1V139.5M579.6 133.3V139.7M579.9 131.9V135.5M580.4 127.6V134.9M581.7 140.2V145.6M582.7 144.1V152.7M584.2 149.3V154.9M584.5 147.3V152.8M586.0 151.4V155.0M586.5 145.8V153.3M586.8 142.9V148.6M587.0 142.7V143.6M587.3 139.9V144.2M587.5 137.7V142.8M587.8 134.3V140.9M588.1 134.5V138.4M588.3 131.6V134.7M588.8 133.7V134.4M589.1 128.5V135.8M589.3 130.5V132.0M589.6 127.8V132.2M591.9 141.4V144.4M592.4 143.9V148.4M592.7 143.1V143.5M592.9 137.3V146.7M593.9 141.3V143.4M594.2 144.0V147.4M594.4 142.7V145.0M594.7 138.6V144.8M595.2 139.5V142.6M595.5 137.8V142.1M595.7 138.6V139.8M596.2 136.6V140.3M597.2 136.0V139.3M597.5 130.5V140.6M598.0 129.0V134.6M598.8 128.3V131.6M599.0 125.8V130.4M599.3 124.0V129.3M599.5 118.6V124.4M599.8 119.0V120.0M600.1 117.3V120.3M600.3 116.6V121.6M600.6 115.5V118.8M601.1 117.6V120.6M602.1 122.0V123.8M602.3 121.0V123.4M603.6 139.9V145.6M603.9 136.1V143.9M604.4 132.8V138.8M604.6 129.0V135.4M604.9 125.6V133.2M605.2 120.5V126.8M605.4 122.9V125.0M605.7 121.5V123.9M606.2 120.1V126.7M606.4 119.6V121.9M606.7 118.4V123.6M606.9 115.3V120.7M607.2 114.9V118.0M607.5 114.6V118.5M607.7 114.5V116.7M608.2 113.8V117.1M609.2 124.2V126.3M609.5 121.1V127.1M609.7 119.8V122.1M610.0 117.0V122.3M610.3 114.5V121.1M610.5 112.2V116.6M610.8 110.4V113.7M611.0 109.7V111.9M611.5 106.9V111.9M612.0 107.4V111.6M612.8 106.2V111.3M613.1 106.9V111.0M613.3 101.5V108.6M613.6 102.8V109.7M614.1 105.9V109.1M614.6 102.0V108.6M615.1 104.4V108.2M615.6 101.0V106.7M615.9 99.1V102.2M616.1 97.5V99.6M616.4 96.2V99.4M618.2 110.3V112.8M618.9 104.9V112.1M619.2 97.7V109.5M619.4 95.8V100.3M619.7 93.0V98.5M620.0 92.2V95.0M620.2 90.4V94.7M620.5 87.5V89.9M620.7 86.5V90.0M621.0 82.2V90.9M621.5 83.7V88.1M621.7 82.0V85.8M622.5 79.0V82.2M623.3 83.4V89.2M623.5 81.3V88.5M624.0 80.2V83.5M624.5 76.2V82.6M627.9 106.2V108.8M628.6 105.4V112.5M628.9 103.9V107.9M629.1 102.8V109.7M629.6 101.3V106.9M630.4 109.1V110.5M630.7 105.5V111.6M631.2 107.5V111.1M631.4 106.5V109.9M631.9 106.3V112.4M632.2 102.6V111.7M632.5 100.9V105.4M632.7 98.6V103.1M633.0 96.3V101.6M633.2 92.7V99.1M633.5 87.9V95.6M633.7 85.8V92.7M634.2 82.7V86.0M634.5 81.8V86.8M636.0 86.1V93.1M636.5 83.2V90.9M637.0 83.7V85.8M637.6 81.5V86.2M637.8 81.4V84.0M639.1 88.0V92.2M641.1 112.7V116.6M642.2 119.2V124.4M642.4 116.0V122.0M642.7 112.5V117.4M643.2 112.2V119.0M643.4 109.9V117.2M643.7 107.7V111.3M644.4 108.7V111.5M644.7 108.4V112.0M646.5 141.8V165.8M646.7 123.2V146.9M647.8 130.0V137.8M649.0 141.3V149.2M649.3 137.3V140.0M649.6 133.0V141.9M649.8 130.3V135.8M650.1 127.0V132.4M650.3 122.3V127.7M650.6 117.8V124.5M650.8 117.7V119.4M651.1 113.6V117.9M651.3 114.2V118.2M651.6 112.0V116.5M651.8 109.4V114.7M652.1 110.5V112.4M652.4 106.4V111.4M652.9 103.7V112.3M653.1 103.2V110.2M653.6 99.6V107.3M654.7 99.9V107.0M655.4 106.3V113.0M655.7 106.8V110.4M655.9 106.9V109.5M656.2 105.1V107.1M657.7 107.5V114.9M658.0 102.3V112.8M659.0 103.4V110.3M659.2 103.2V107.0M659.5 100.6V105.2M659.8 97.4V105.2M660.0 98.1V102.4M660.5 98.7V102.6M660.8 93.2V100.0M661.0 89.0V95.6M661.3 88.0V92.0M662.3 90.2V95.1M662.6 87.5V91.9M663.6 89.9V94.8M664.3 88.7V93.4M664.9 89.2V91.8M665.9 89.6V91.3M666.1 85.3V89.4M666.9 83.1V90.1M667.4 82.3V86.5M667.9 80.2V87.4M668.4 85.4V88.1M668.7 83.3V85.9M668.9 79.3V85.7M669.2 79.1V83.9M669.5 76.1V82.3M669.7 76.1V78.8M670.0 74.9V78.6M670.2 71.6V76.3M670.5 72.0V76.1M671.0 73.6V78.0M671.7 73.0V78.2M672.3 67.4V74.7M672.8 66.9V73.5M673.0 64.6V68.7M673.5 68.7V73.4M673.8 66.2V69.9M674.0 67.9V70.5M675.6 69.3V74.5M675.8 66.9V72.9M676.1 66.3V67.6M676.6 65.3V68.5M677.9 68.0V74.8M678.4 70.2V77.5M679.1 68.8V74.0M679.7 68.9V75.6M679.9 68.2V75.8M680.4 66.8V71.8M680.7 61.8V67.4M680.9 58.8V64.1M681.4 59.2V64.9M681.7 56.4V65.8M682.0 55.7V62.2M682.2 52.9V57.8M683.0 50.7V57.3M683.2 47.8V51.1M684.3 50.2V56.1M684.5 52.9V57.3M686.5 69.7V72.6M686.8 63.1V74.8M687.1 61.5V64.7M687.3 59.0V63.2M687.6 54.6V60.3M687.8 54.2V57.8M688.1 51.9V56.3M688.6 54.0V57.7M688.8 50.8V54.6" stroke="#4f847b" stroke-width="0.5" fill="none"/>
  <path d="M10.4 346.9V347.7M10.7 346.0V347.7M10.9 347.3V348.0M11.2 347.2V349.3M11.4 348.4V350.2M11.7 348.3V350.7M12.7 348.9V351.2M12.9 348.5V349.2M13.2 348.7V349.4M13.5 348.8V351.7M14.5 348.3V350.2M14.7 348.1V352.2M15.0 351.0V353.0M15.2 351.1V352.6M15.8 351.1V352.8M16.0 350.2V351.9M16.3 351.3V353.2M16.5 351.4V353.2M17.0 353.3V354.7M18.1 350.6V354.7M18.6 352.2V353.5M19.6 349.6V351.7M19.8 350.6V351.5M20.6 349.1V350.7M21.1 348.7V350.5M21.4 349.1V351.1M22.1 348.4V351.4M22.4 351.2V352.1M22.9 351.0V352.2M23.7 350.8V352.9M25.2 351.6V352.0M25.5 352.3V353.8M26.0 353.3V355.1M26.2 353.9V355.8M26.5 355.6V359.3M26.7 358.5V361.8M27.0 360.0V363.9M27.2 363.7V365.0M27.5 364.1V368.6M27.7 368.2V371.9M28.0 370.4V373.1M29.0 364.6V365.3M29.5 363.8V365.3M29.8 365.1V368.5M30.6 363.9V365.4M30.8 363.6V365.4M31.1 364.2V365.8M31.8 363.0V364.0M32.1 361.4V364.0M32.3 362.5V367.1M32.6 365.2V366.1M32.9 364.7V365.5M33.1 365.1V366.3M33.4 364.6V369.2M33.6 367.8V369.3M33.9 368.5V369.2M34.1 369.3V369.7M34.9 366.6V368.3M36.9 358.6V358.8M38.0 354.3V357.4M39.0 352.4V354.5M40.3 351.7V354.5M40.8 352.4V355.3M41.0 355.4V357.3M42.0 354.2V356.5M42.3 356.6V356.9M42.5 355.9V357.5M45.1 351.3V352.7M45.4 352.1V352.9M46.1 351.7V353.4M46.9 350.3V354.2M47.1 353.6V355.3M47.4 353.5V354.6M47.9 353.8V355.3M48.2 353.9V355.7M48.9 354.4V355.6M49.7 352.8V354.3M50.2 353.4V355.2M50.7 354.8V356.9M51.0 355.9V358.2M51.2 358.0V359.4M51.5 357.7V361.8M51.7 360.2V362.4M52.0 361.3V363.7M52.2 362.4V364.0M52.5 362.5V364.1M52.8 361.9V366.2M53.0 365.8V368.3M53.3 365.6V369.6M53.5 369.1V370.5M54.0 369.5V372.1M54.3 370.7V372.4M54.5 371.0V371.9M56.3 364.3V366.8M56.6 364.8V369.0M56.8 366.1V369.9M57.1 368.9V370.0M57.3 369.8V370.9M57.6 370.7V373.5M58.1 371.6V373.0M59.9 364.8V366.0M60.2 365.5V366.2M60.7 363.9V364.8M61.2 363.9V364.7M62.2 359.0V362.3M62.7 360.4V362.1M63.5 358.6V360.8M64.5 356.5V359.0M65.0 356.1V356.8M65.3 356.6V358.0M66.3 353.4V354.6M67.6 350.2V351.7M68.8 346.1V348.4M69.1 346.0V349.5M69.3 347.8V349.4M69.6 348.1V350.7M70.6 349.1V350.9M70.9 349.8V350.9M71.1 350.2V351.6M71.6 349.9V351.9M71.9 351.6V352.0M72.7 347.8V351.4M73.2 348.6V352.3M73.4 349.8V352.2M73.7 350.7V354.9M74.2 351.7V354.3M74.4 353.7V354.9M75.0 352.8V354.7M75.2 353.7V355.6M76.0 351.4V352.1M76.2 351.4V351.9M76.7 349.9V351.4M77.0 350.1V351.8M77.8 351.7V353.6M78.0 351.4V353.7M79.0 349.0V350.6M79.5 349.5V352.0M79.8 351.1V353.7M80.1 352.0V353.9M80.6 351.3V354.7M80.8 353.3V355.0M81.1 353.9V355.8M81.3 355.1V357.2M81.6 356.9V357.8M81.8 355.1V358.6M83.1 350.2V351.7M83.9 347.6V351.5M84.1 348.9V350.3M85.4 344.3V344.6M86.7 343.0V346.5M87.5 344.8V346.5M87.7 345.3V346.8M89.0 342.1V344.5M90.5 341.9V343.5M91.0 343.0V343.9M91.8 342.8V344.7M92.0 343.7V346.4M92.3 345.1V346.4M93.1 344.8V347.2M93.3 346.4V348.2M94.3 344.7V349.5M95.4 344.5V345.5M96.1 345.2V348.3M96.9 346.7V347.9M97.7 344.5V346.6M97.9 345.5V347.1M98.7 345.7V347.0M99.7 344.0V347.0M100.0 346.1V349.0M101.0 345.6V346.9M101.2 346.0V347.8M101.5 347.9V349.3M101.7 347.9V349.2M102.0 348.2V349.9M102.3 348.9V350.9M102.8 348.8V351.0M104.3 349.4V351.7M104.8 349.4V351.8M105.1 349.7V351.0M108.6 335.6V337.9M108.9 336.6V339.0M109.4 337.3V339.0M110.2 338.1V340.7M110.4 339.3V340.9M111.2 336.2V336.7M111.4 335.3V336.9M113.0 330.8V332.0M113.2 331.6V331.7M114.2 327.8V332.9M114.5 330.0V332.7M115.5 331.6V331.9M115.8 330.1V331.9M116.0 331.2V333.0M116.8 328.6V331.2M117.1 330.7V332.2M117.6 330.3V330.9M117.8 330.5V331.2M118.6 331.2V333.7M118.8 330.9V332.6M119.6 329.7V331.8M119.9 330.6V332.1M120.4 330.5V332.3M121.6 325.0V327.3M123.2 322.6V325.5M123.7 321.5V322.6M124.2 321.9V324.4M124.5 321.9V325.0M126.0 318.5V321.0M126.7 316.7V319.6M127.5 316.8V318.8M127.8 317.8V321.3M128.0 319.6V320.8M128.3 319.8V321.6M128.5 320.7V323.5M128.8 323.2V323.8M129.0 323.0V324.1M129.6 322.1V324.0M130.3 319.4V322.0M130.6 320.5V323.0M130.8 322.4V323.7M131.1 322.5V324.6M131.3 323.2V324.6M132.1 322.7V325.4M132.4 323.7V325.5M132.9 324.4V325.2M134.7 319.2V320.4M135.2 318.8V321.1M135.4 319.9V321.2M135.9 319.2V321.3M136.2 319.9V320.3M136.7 319.6V322.1M137.0 319.3V321.6M137.2 320.3V321.7M138.2 317.7V321.7M138.7 318.7V320.0M139.5 317.7V318.6M139.8 317.7V319.6M140.0 317.8V320.0M140.3 318.5V320.4M140.5 318.7V321.8M140.8 319.9V320.2M141.0 318.4V320.7M141.5 318.6V320.0M142.8 315.4V316.4M143.3 313.9V316.9M143.6 314.7V317.8M144.4 315.5V316.7M145.1 314.5V315.3M145.6 312.8V314.7M145.9 313.2V315.9M146.4 314.7V317.6M146.9 315.1V316.2M147.2 315.1V316.1M147.7 313.7V314.9M148.4 312.7V313.9M148.7 311.9V314.8M148.9 313.3V315.0M149.2 313.1V313.8M149.7 312.0V316.0M150.5 309.0V311.1M150.7 310.0V311.8M151.0 308.7V311.9M151.5 309.2V311.0M152.0 309.9V311.2M152.3 310.2V310.8M152.5 308.7V310.8M153.0 308.4V310.0M153.3 308.9V310.6M154.8 307.9V309.2M155.1 306.9V309.6M155.3 307.8V309.7M155.8 306.5V308.9M156.1 307.3V308.1M156.3 307.4V310.2M157.1 304.7V307.6M157.4 305.9V309.7M157.6 307.6V310.5M159.2 308.4V310.4M159.7 306.9V309.9M160.9 306.2V309.3M162.2 303.1V304.5M162.5 302.9V304.9M162.7 303.2V305.6M163.0 302.7V307.0M164.5 300.2V301.8M165.3 298.0V302.0M165.5 300.4V301.7M167.6 292.7V297.2M167.8 295.3V297.4M168.3 295.3V296.5M168.6 295.7V298.1M169.1 295.9V298.5M170.4 293.4V295.7M170.6 295.1V297.1M170.9 295.4V297.6M171.7 295.8V298.3M172.2 294.5V295.6M173.4 289.1V291.1M175.0 284.1V286.4M175.2 282.8V287.1M176.0 281.9V285.1M176.5 280.2V284.1M177.3 279.7V283.5M178.0 278.6V280.6M178.3 279.7V282.3M178.5 279.3V281.6M178.8 279.3V282.6M179.1 280.1V284.1M180.3 272.1V273.3M180.6 271.7V273.7M181.3 269.9V273.4M181.6 270.3V273.1M182.4 270.2V272.6M183.9 263.6V266.1M184.2 263.6V270.0M184.4 264.4V269.6M184.7 269.6V274.4M184.9 273.8V276.9M185.2 274.4V282.2M185.4 280.4V285.5M185.7 284.4V288.9M185.9 286.9V289.5M186.2 287.8V290.8M188.0 277.1V279.0M188.2 276.7V281.9M189.0 278.4V281.3M189.5 278.6V280.2M190.0 278.0V279.1M190.3 277.7V281.8M190.5 279.7V282.0M190.8 280.4V282.4M191.3 279.3V283.0M191.8 278.3V282.0M192.3 280.8V282.9M192.6 280.1V287.0M193.1 284.7V290.0M193.3 288.1V292.0M193.6 289.6V296.1M194.1 293.4V294.3M194.4 291.6V294.8M196.9 279.2V283.9M197.2 280.9V283.4M197.4 282.7V289.3M198.7 282.4V285.0M199.0 282.2V285.3M199.2 282.6V285.4M199.5 285.0V288.3M199.7 286.2V289.4M200.2 287.6V288.2M200.5 287.6V288.8M200.7 287.8V290.6M201.0 289.2V290.2M202.0 284.0V287.5M202.3 285.5V288.8M203.5 281.4V282.6M203.8 282.3V286.4M204.3 282.3V283.3M205.1 282.2V283.7M205.3 283.3V287.2M207.6 274.4V278.4M208.1 276.1V278.6M208.7 277.4V279.8M208.9 278.7V281.7M209.2 279.0V281.3M209.4 279.0V282.7M209.7 282.7V283.7M210.2 281.9V285.3M210.7 283.3V287.3M210.9 286.0V288.0M211.5 285.3V286.4M212.2 279.3V283.1M212.5 281.6V282.1M213.0 281.1V282.3M214.3 278.4V280.4M214.8 274.4V280.3M215.0 278.4V279.8M217.1 273.6V276.0M217.3 275.1V276.4M217.8 274.0V276.4M218.1 274.4V278.7M218.9 272.2V277.3M219.1 276.2V278.5M219.4 276.7V278.4M220.4 272.5V273.3M221.2 268.5V269.8M221.4 267.8V270.4M221.9 268.4V270.4M222.4 269.3V271.2M222.9 268.3V270.5M223.2 268.2V270.2M223.4 268.8V272.3M224.0 269.8V270.6M225.5 262.6V263.4M225.7 261.6V264.4M226.3 260.0V265.4M226.5 262.6V264.4M226.8 261.5V263.7M227.0 260.2V265.1M227.8 260.3V261.6M228.0 259.8V264.3M228.3 262.4V264.4M228.6 263.1V269.7M228.8 267.8V270.7M229.1 270.1V273.3M229.3 272.7V275.6M229.6 274.9V276.5M229.8 275.6V276.9M230.1 275.0V278.1M230.6 278.3V280.0M230.8 278.7V281.7M231.1 280.6V282.5M231.4 281.2V284.3M231.9 282.7V284.8M232.1 282.3V285.5M232.4 285.1V285.6M234.2 266.1V270.6M234.4 268.3V274.6M234.7 271.4V275.1M234.9 273.0V276.0M235.2 272.9V277.6M235.4 276.7V280.2M235.7 276.9V282.7M236.0 281.0V284.3M236.2 283.3V284.9M237.5 277.7V279.2M238.8 270.7V275.8M239.0 272.5V279.3M239.3 275.9V279.6M239.5 278.8V285.0M240.0 281.8V286.5M240.3 284.7V287.5M240.5 287.2V290.1M240.8 289.3V292.4M241.1 288.7V294.1M241.3 292.0V299.7M241.6 299.4V303.9M241.8 303.3V307.2M242.1 306.1V310.9M242.3 309.6V311.6M244.1 292.7V295.1M245.1 287.9V292.3M245.4 291.2V294.1M247.2 282.5V286.0M248.5 278.8V283.6M249.5 275.0V277.0M250.5 272.8V274.7M251.0 271.4V272.6M251.5 269.1V272.4M252.0 269.3V271.8M252.3 270.1V274.9M253.0 269.9V272.6M253.3 270.2V272.8M253.8 269.9V271.4M254.1 269.9V271.9M254.8 268.1V271.3M255.1 269.3V273.6M255.9 269.1V272.6M256.1 270.3V272.3M256.6 270.1V273.1M256.9 271.2V273.9M257.6 270.4V273.3M257.9 271.9V274.0M258.4 270.8V272.9M258.9 270.4V273.1M259.7 268.9V269.7M259.9 269.3V271.5M260.7 269.0V271.8M261.0 269.2V271.9M263.0 263.7V264.4M264.3 262.9V265.8M264.5 263.2V264.9M264.8 262.6V265.3M265.0 264.1V267.6M265.5 266.1V267.2M265.8 266.0V267.8M266.3 263.9V270.1M266.6 268.8V272.0M266.8 268.7V274.3M267.3 271.8V273.8M267.6 272.9V278.1M267.8 276.4V279.2M268.4 275.0V279.4M268.9 277.1V281.2M269.4 279.2V280.3M269.6 278.7V280.1M269.9 279.0V282.4M270.1 280.5V281.8M271.2 275.9V280.1M273.7 264.6V266.3M274.0 265.2V268.5M275.2 262.2V264.4M276.0 261.8V263.1M276.3 260.0V264.2M276.5 263.7V265.6M277.3 255.5V257.9M277.5 256.6V258.4M278.6 253.3V256.5M278.8 254.1V259.0M279.3 255.4V258.1M279.8 257.0V258.8M280.1 255.3V261.1M280.6 258.4V260.9M281.1 260.5V265.1M281.4 265.0V267.8M281.6 264.7V269.1M282.6 265.8V269.0M282.9 266.9V270.1M283.2 269.3V271.5M283.4 268.3V274.0M284.7 271.2V274.1M285.2 269.5V271.0M286.0 267.2V269.5M287.0 265.0V267.1M287.2 264.5V268.5M289.3 257.5V260.2M289.5 258.5V260.8M290.6 255.3V258.1M291.1 257.0V259.3M291.3 259.2V260.7M291.6 258.5V262.0M291.8 258.9V265.9M292.1 265.6V269.1M293.1 263.1V266.4M293.4 263.6V266.8M294.9 258.0V260.5M295.7 256.3V261.9M296.4 258.4V260.2M296.7 260.0V260.7M298.0 254.5V257.5M299.5 249.4V250.7M300.2 247.3V248.2M300.8 245.8V249.1M301.3 245.7V248.2M301.5 245.4V249.7M302.0 247.4V250.2M302.5 247.9V251.3M302.8 248.4V250.0M303.1 248.1V252.6M303.3 250.5V252.4M304.1 247.2V248.9M304.6 246.6V249.2M304.8 247.0V250.5M305.6 245.8V252.1M306.1 248.8V250.1M306.6 246.5V249.4M307.4 243.2V244.2M307.9 242.8V244.3M308.2 243.5V246.8M308.4 245.2V248.1M309.2 243.8V246.7M310.7 237.5V240.7M311.2 238.0V239.7M311.5 238.1V241.5M311.7 240.6V243.9M312.2 240.3V242.4M312.5 240.5V244.0M312.8 243.2V246.4M313.0 242.7V247.4M313.3 246.7V247.7M314.3 244.2V245.8M315.6 233.9V235.5M315.8 233.8V241.5M316.3 238.5V239.1M316.8 236.3V240.4M317.1 239.9V247.9M317.3 247.0V255.7M317.6 252.7V261.7M317.9 260.4V268.8M318.1 266.4V274.3M318.4 272.3V277.7M318.6 277.7V282.3M318.9 279.5V285.2M319.1 281.9V287.3M319.4 285.9V288.9M319.6 288.6V290.0M319.9 290.0V291.1M320.2 291.0V299.9M320.4 298.6V307.2M320.7 306.9V315.5M320.9 315.0V321.1M321.2 320.4V329.1M321.4 328.1V331.7M321.7 330.7V335.6M321.9 334.9V337.5M322.2 336.3V341.7M322.4 340.3V343.1M324.2 309.2V310.3M327.6 289.0V293.9M328.3 287.4V290.3M329.3 286.0V290.0M329.8 285.9V291.4M330.4 286.2V289.9M330.6 286.9V289.2M330.9 288.6V290.6M331.1 288.8V293.7M331.4 291.1V293.6M331.6 291.1V294.0M332.7 287.1V290.5M336.2 254.0V267.7M336.5 267.0V279.2M337.0 274.3V279.0M337.8 277.1V279.2M338.0 277.9V279.7M339.0 272.8V274.3M339.3 271.4V275.4M340.3 269.4V272.2M342.3 259.8V263.3M342.9 261.1V263.3M343.1 262.3V263.5M343.6 262.2V266.2M343.9 262.1V266.6M344.1 263.4V267.1M344.9 265.2V269.2M346.7 255.3V257.0M346.9 256.6V258.9M348.2 249.4V252.0M348.7 248.3V251.2M349.2 247.7V249.4M349.5 248.6V249.6M350.0 246.6V251.9M351.3 239.1V240.2M351.5 239.1V242.5M351.8 241.0V246.7M352.0 244.8V246.4M352.3 245.8V249.0M352.6 245.8V248.8M352.8 248.9V249.7M353.1 248.7V253.0M353.3 251.6V254.5M353.6 253.2V257.9M354.1 254.8V258.0M354.3 257.3V260.1M354.6 258.3V261.7M354.9 259.9V264.3M357.9 242.3V243.1M358.4 241.3V245.2M358.9 243.6V246.2M359.2 245.6V250.6M359.4 248.0V256.3M359.7 255.4V259.1M360.0 255.2V260.2M360.2 256.9V260.5M360.5 260.2V261.5M360.7 258.8V261.5M361.0 260.0V261.7M361.2 260.0V265.0M363.5 243.8V246.1M364.5 232.3V239.4M365.6 232.2V234.2M366.1 231.8V236.3M366.6 232.5V235.3M367.1 231.6V237.2M367.6 231.5V235.3M367.9 233.4V234.0M368.9 228.0V230.5M369.7 227.3V229.4M370.9 222.8V227.4M371.2 226.6V229.1M373.0 216.9V223.4M373.2 222.1V223.0M373.7 221.0V222.6M374.5 220.4V223.4M374.8 218.5V223.1M375.0 220.6V224.5M375.3 225.3V226.3M375.8 226.6V228.6M376.0 227.6V230.0M376.5 225.4V228.6M376.8 226.1V229.9M377.0 229.0V230.7M377.3 228.9V231.3M377.8 226.6V229.2M378.3 224.2V226.9M378.6 224.5V227.9M379.1 221.4V224.5M380.1 213.5V216.1M380.4 213.9V216.6M380.9 215.3V219.2M381.1 214.1V218.9M381.6 216.2V218.5M381.9 214.5V221.9M382.2 219.5V220.4M384.2 204.2V207.0M385.0 196.5V202.2M385.5 198.5V202.8M385.7 199.2V204.9M386.2 200.4V204.5M387.0 197.7V201.4M387.5 198.3V202.8M390.1 191.7V194.1M390.8 186.7V190.6M391.3 183.3V188.4M391.6 185.6V188.5M391.8 186.2V188.7M392.1 188.8V190.2M392.4 189.1V193.8M392.6 192.5V193.7M393.9 189.1V189.5M394.7 180.5V185.5M394.9 184.1V189.8M395.2 188.3V193.5M395.4 190.1V194.7M395.7 192.4V196.3M397.0 187.6V191.2M397.2 189.2V192.2M398.2 180.3V186.3M399.2 182.2V186.9M400.0 182.9V184.5M400.5 183.0V187.8M400.8 185.0V188.3M401.0 186.2V188.0M401.5 186.5V193.0M401.8 190.4V197.7M403.3 185.5V191.0M404.6 181.8V186.7M405.6 178.2V181.0M406.1 177.2V180.5M406.4 177.0V181.6M406.6 178.5V182.7M406.9 180.2V183.8M407.2 183.3V191.0M410.7 174.5V177.0M411.8 173.0V175.3M412.0 173.2V175.7M412.3 173.8V178.2M413.0 171.8V175.5M413.5 172.0V179.5M413.8 176.0V180.8M414.6 174.7V177.1M414.8 174.0V176.6M415.1 175.7V177.7M415.3 175.1V180.6M415.8 177.8V180.2M416.3 175.1V177.5M416.6 176.5V183.9M416.9 179.3V185.4M417.4 179.0V182.1M417.6 180.1V183.7M417.9 182.3V184.6M418.1 183.5V188.3M418.4 184.7V192.4M418.6 189.6V191.4M418.9 190.9V193.0M419.1 191.2V192.4M419.4 193.7V195.0M420.2 190.1V191.2M421.4 183.7V184.9M422.0 182.0V185.1M423.0 175.3V178.4M423.2 175.6V177.5M423.5 174.9V176.5M423.7 174.1V178.4M424.0 176.1V178.6M424.3 177.3V182.0M424.8 177.7V180.2M426.8 162.3V168.4M427.8 162.5V168.0M428.1 166.1V168.3M428.3 166.4V171.9M428.8 169.4V178.5M429.1 175.0V178.2M429.9 173.8V179.5M430.4 177.9V182.1M430.6 179.6V186.9M430.9 181.9V185.9M431.7 176.7V178.1M431.9 174.9V177.9M432.2 175.7V177.7M432.9 167.2V170.0M433.2 167.8V172.2M433.7 168.4V172.0M434.5 163.9V165.5M434.7 163.8V167.2M435.0 165.1V168.4M435.5 164.3V166.3M436.0 161.0V166.6M436.8 164.3V166.8M437.3 160.9V163.7M437.5 162.5V167.9M437.8 165.0V167.0M438.3 163.7V171.1M438.8 167.8V168.9M439.3 168.2V172.8M439.6 171.9V177.5M439.8 175.0V177.1M440.3 174.7V183.8M440.6 177.1V183.2M440.8 179.0V187.4M441.1 184.6V189.9M442.9 175.1V175.7M443.1 174.5V179.4M443.4 175.8V181.6M443.6 180.0V182.3M444.2 182.3V184.2M444.7 179.3V183.2M444.9 181.2V189.2M445.2 186.4V189.6M445.4 185.4V190.1M445.7 189.6V195.0M445.9 192.8V200.2M447.0 188.7V195.6M447.2 192.6V200.8M447.5 196.3V200.6M447.7 199.3V202.6M448.0 199.9V203.4M448.2 200.9V204.0M448.7 195.9V200.7M451.8 175.6V177.6M452.1 176.9V181.7M452.3 180.7V183.5M453.6 174.0V176.2M453.9 174.9V177.6M454.1 176.0V178.1M454.6 174.4V179.6M455.1 175.4V177.2M455.6 173.0V178.9M455.9 178.3V183.8M456.1 180.6V185.7M456.4 184.5V189.1M456.7 187.2V194.7M456.9 189.5V197.2M457.2 194.6V201.0M457.4 196.0V201.8M457.7 200.1V203.2M457.9 201.3V207.7M458.2 204.6V209.3M458.7 204.8V208.5M459.0 206.1V210.5M459.2 208.8V214.1M460.0 205.4V207.7M460.2 206.3V210.8M460.5 208.0V213.3M460.7 213.0V216.9M461.5 213.7V216.0M463.0 199.7V201.8M463.3 201.0V202.7M463.8 199.5V206.0M464.1 203.7V209.3M464.3 206.9V211.3M464.6 209.9V213.0M464.8 209.4V216.8M465.1 217.3V224.5M465.3 219.8V229.0M465.6 225.9V231.2M465.8 227.6V231.9M466.4 228.1V232.0M466.9 227.2V229.2M467.1 228.7V231.5M468.6 220.3V223.4M468.9 220.0V223.0M469.2 220.7V223.2M469.7 219.8V221.9M470.2 219.9V221.9M470.4 219.6V222.1M472.0 207.5V212.4M473.5 198.5V203.6M476.0 191.8V193.8M476.8 188.8V193.4M477.1 190.0V195.4M477.3 193.7V197.2M477.6 195.3V199.0M477.8 198.3V202.0M478.1 199.6V205.5M478.3 204.6V207.3M478.6 205.6V208.1M478.9 208.0V213.2M479.1 212.1V215.9M480.4 201.9V204.7M480.6 201.7V205.3M480.9 201.2V206.7M481.4 206.0V209.3M481.7 206.7V212.9M481.9 209.5V218.6M482.7 215.0V223.3M482.9 219.1V226.8M483.2 221.9V225.9M483.4 225.5V229.6M483.7 229.1V232.7M484.0 230.3V237.5M484.2 235.0V242.2M484.5 239.8V242.5M485.2 239.3V242.1M486.3 237.9V241.1M489.6 203.8V205.8M490.6 197.6V201.3M490.8 197.9V201.8M491.4 197.8V200.6M493.4 190.5V192.3M493.9 185.7V190.4M494.9 181.6V184.8M495.4 182.0V187.0M496.2 182.7V187.6M496.5 184.8V188.3M496.7 187.4V191.7M497.5 187.7V190.9M497.7 187.8V193.3M498.8 189.9V191.5M499.0 190.3V197.6M499.3 194.7V199.1M499.8 196.1V202.1M500.5 195.1V198.0M501.3 192.6V197.3M502.6 190.0V191.1M503.9 181.8V184.0M504.1 182.7V185.3M504.4 182.2V185.8M504.6 184.1V187.1M505.1 182.3V184.7M505.4 184.3V187.0M505.6 185.3V188.4M505.9 188.6V189.9M506.2 186.6V190.3M506.7 184.7V189.4M507.4 186.5V190.5M508.5 188.1V190.5M509.0 187.6V191.0M509.2 188.5V193.6M509.7 192.0V193.4M510.0 191.9V195.1M510.2 193.6V197.5M510.7 190.8V202.2M511.0 200.9V203.9M511.3 201.6V204.6M511.8 201.8V206.9M512.0 202.6V208.7M512.5 205.3V206.3M512.8 206.9V209.7M513.0 205.6V208.1M513.6 204.7V213.8M514.3 207.7V211.1M514.8 208.7V212.3M516.9 196.3V198.8M517.1 195.9V197.9M517.6 196.8V200.2M519.9 187.5V191.0M521.5 184.3V188.6M521.7 186.7V190.4M522.0 187.2V190.6M522.2 186.6V191.9M522.5 190.6V196.8M522.7 192.4V195.9M523.0 193.3V198.5M523.5 197.0V198.9M523.8 197.2V200.5M524.5 194.6V198.4M525.0 194.1V199.0M525.3 195.5V198.8M525.8 194.0V202.4M526.1 197.3V200.7M526.6 199.3V200.3M526.8 198.7V201.7M527.1 199.3V201.9M528.6 189.6V192.3M528.9 188.5V193.9M529.1 188.9V193.0M530.1 183.2V185.6M530.4 182.6V188.3M530.7 186.3V189.8M530.9 186.8V190.8M531.4 187.5V188.8M531.9 186.3V190.5M532.7 182.8V188.7M532.9 183.4V186.1M533.2 183.8V186.7M533.5 187.5V189.6M533.7 187.5V191.3M534.0 189.4V192.7M535.8 181.5V183.7M536.5 178.4V182.8M537.8 174.6V178.4M538.1 174.1V175.0M538.6 171.1V177.0M539.1 169.5V177.2M539.3 170.3V176.6M539.8 173.9V179.2M540.3 175.8V181.3M541.4 175.9V184.5M542.9 175.3V179.2M543.2 179.4V184.5M543.4 180.7V185.1M543.7 181.5V184.0M543.9 182.4V183.4M544.4 181.8V184.9M544.7 183.2V186.4M544.9 183.7V185.7M545.2 184.5V187.4M546.7 182.0V187.9M547.0 183.6V187.8M547.2 184.3V187.5M547.5 183.1V191.1M547.7 188.6V194.7M548.0 193.0V194.7M548.3 194.4V197.1M549.3 192.7V198.6M550.0 192.0V196.6M550.6 190.6V198.6M551.1 193.8V195.2M551.3 194.0V199.0M551.8 195.5V198.7M552.3 196.3V199.4M552.6 197.4V201.6M553.1 196.2V200.6M553.4 196.5V207.5M554.6 196.5V197.8M555.4 191.9V193.8M556.2 186.4V187.5M557.4 175.5V180.3M558.5 174.5V178.3M559.7 168.9V171.4M562.3 154.0V156.8M563.6 151.5V155.8M564.8 150.2V155.7M565.1 155.4V159.7M566.1 154.0V160.5M568.4 149.9V152.7M569.7 141.2V149.7M570.2 147.9V149.1M570.5 146.8V149.8M572.2 140.3V143.5M572.8 140.1V143.2M573.0 140.7V142.5M573.5 140.9V143.1M573.8 141.0V142.1M574.0 140.7V145.3M574.3 143.7V144.2M574.5 144.5V146.6M575.6 136.7V142.1M575.8 139.6V143.0M576.1 140.4V142.2M577.3 132.2V141.9M577.6 137.3V141.7M577.9 139.1V146.3M579.4 136.9V140.9M580.1 130.4V135.6M580.7 130.5V137.0M580.9 133.1V144.4M581.2 141.1V145.5M581.4 142.2V146.1M581.9 141.3V146.7M582.2 143.7V147.5M582.4 144.3V152.3M583.0 144.8V153.5M583.2 148.7V153.9M583.5 151.5V153.7M583.7 151.0V151.9M584.0 150.9V153.6M584.7 147.1V149.6M585.0 148.9V150.0M585.3 147.4V150.7M585.5 148.3V152.3M585.8 146.3V154.0M586.3 147.9V151.6M588.6 132.4V133.7M589.8 129.3V130.7M590.1 129.4V132.6M590.4 129.0V136.1M590.6 134.7V137.9M590.9 135.2V139.6M591.1 135.6V138.0M591.4 137.0V142.0M591.6 139.4V144.0M592.1 143.7V149.1M593.2 137.4V142.1M593.4 139.1V141.8M593.7 140.7V145.2M594.9 138.5V141.6M596.0 138.1V141.4M596.5 135.6V137.8M596.7 137.7V139.6M597.0 135.9V139.9M597.8 129.3V136.5M598.3 129.0V131.3M598.5 128.2V131.5M600.8 116.0V121.1M601.3 118.2V122.6M601.6 119.4V122.2M601.8 119.8V124.4M602.6 121.9V128.9M602.9 125.3V135.4M603.1 133.6V140.8M603.4 140.0V143.5M604.1 134.3V140.4M605.9 122.9V127.1M608.0 114.8V117.2M608.5 113.4V119.4M608.7 116.9V127.8M609.0 123.8V128.1M611.3 109.5V111.6M611.8 106.7V111.6M612.3 106.3V110.0M612.6 109.4V111.6M613.8 102.9V109.7M614.3 105.0V108.1M614.9 103.9V107.5M615.4 104.0V105.4M616.6 96.8V100.7M616.9 98.3V100.7M617.1 99.8V103.2M617.4 99.9V105.4M617.7 102.4V108.5M617.9 104.3V112.2M618.4 109.4V112.6M618.7 109.6V111.4M621.2 81.8V87.5M622.0 80.2V82.7M622.2 80.7V84.5M622.8 80.9V82.6M623.0 80.3V88.7M623.8 79.6V83.1M624.3 77.9V84.2M624.8 79.0V84.2M625.1 83.3V84.4M625.3 83.6V88.2M625.6 85.1V89.8M625.8 87.9V94.2M626.1 92.9V95.5M626.3 94.6V97.5M626.6 95.8V102.9M626.8 99.0V106.3M627.1 104.1V106.2M627.4 103.3V108.3M627.6 105.8V111.2M628.1 106.7V109.1M628.4 106.0V112.0M629.4 101.5V105.9M629.9 101.1V108.5M630.2 105.7V111.6M630.9 102.5V110.9M631.7 102.1V109.5M634.0 84.8V86.5M634.8 81.0V86.2M635.0 83.0V88.2M635.3 86.5V89.6M635.5 85.3V89.8M635.8 85.4V91.1M636.3 86.3V92.6M636.8 86.0V86.9M637.3 81.7V87.2M638.1 82.1V87.5M638.3 82.8V88.4M638.6 84.9V89.9M638.8 85.0V91.5M639.3 85.3V92.7M639.6 91.0V93.4M639.9 91.8V101.6M640.1 97.4V107.1M640.4 102.4V110.2M640.6 107.3V114.5M640.9 111.7V115.6M641.4 114.2V117.6M641.6 117.1V120.2M641.9 119.5V125.4M642.9 110.3V118.1M643.9 106.5V113.1M644.2 109.2V113.3M645.0 107.8V111.0M645.2 110.9V117.2M645.5 113.4V123.6M645.7 121.1V135.9M646.0 134.1V148.3M646.2 145.4V163.4M647.0 123.7V130.3M647.3 129.4V130.7M647.5 131.2V136.7M648.0 133.7V140.9M648.3 138.5V145.1M648.5 142.4V147.3M648.8 144.1V147.7M652.6 106.6V109.9M653.4 104.1V108.0M653.9 102.3V107.6M654.1 103.7V106.2M654.4 104.5V109.5M654.9 104.6V105.4M655.2 102.0V112.8M656.4 103.9V109.2M656.7 104.8V110.2M657.0 107.9V110.6M657.2 109.1V112.2M657.5 108.7V113.6M658.2 105.6V110.6M658.5 106.7V108.6M658.7 107.9V111.7M660.3 97.0V101.0M661.5 87.8V91.1M661.8 91.2V94.3M662.1 91.7V96.0M662.8 86.4V91.6M663.1 86.1V91.8M663.3 89.9V94.2M663.8 89.4V90.8M664.1 89.9V95.8M664.6 87.8V96.2M665.1 89.4V94.2M665.4 91.0V92.9M665.6 89.1V92.0M666.4 87.1V89.3M666.6 85.8V90.2M667.2 79.7V85.3M667.7 81.0V84.2M668.2 79.7V87.1M670.7 71.5V79.7M671.2 72.5V78.4M671.5 74.7V77.7M672.0 73.8V76.3M672.5 71.9V74.9M673.3 66.9V71.8M674.3 67.2V73.2M674.6 64.3V73.0M674.8 69.9V72.7M675.1 67.5V76.3M675.3 69.7V72.7M676.3 63.5V69.6M676.9 64.6V68.2M677.1 66.8V69.4M677.4 66.8V71.4M677.6 67.9V74.6M678.1 68.5V75.7M678.6 70.4V73.9M678.9 71.3V74.3M679.4 69.3V76.0M680.2 66.7V74.4M681.2 56.9V64.2M682.5 52.4V59.2M682.7 53.8V56.6M683.5 45.2V52.1M683.7 51.2V56.4M684.0 52.7V55.6M684.8 52.5V58.9M685.0 55.1V61.1M685.3 58.1V64.9M685.5 62.1V66.9M685.8 64.1V68.7M686.0 66.4V73.2M686.3 70.5V72.0M688.3 51.6V56.6" stroke="#a8646b" stroke-width="0.5" fill="none"/>
  <rect x="31.2" y="409.5" width="36" height="7.2" fill="#ea3a48"/><text x="35.0" y="414.6" fill="#fff" font-size="3.8" font-weight="bold">4l</text><text x="39.7" y="414.6" fill="#fff" font-size="3.8" font-weight="bold" textLength="23" lengthAdjust="spacingAndGlyphs">Thu 31 Dec '15</text><rect x="95.2" y="409.5" width="36" height="7.2" fill="#ea3a48"/><text x="99.0" y="414.6" fill="#fff" font-size="3.8" font-weight="bold">4l</text><text x="103.7" y="414.6" fill="#fff" font-size="3.8" font-weight="bold" textLength="23" lengthAdjust="spacingAndGlyphs">Fri 30 Dec '16</text><rect x="159.2" y="409.5" width="36" height="7.2" fill="#ea3a48"/><text x="163.0" y="414.6" fill="#fff" font-size="3.8" font-weight="bold">1l</text><text x="167.7" y="414.6" fill="#fff" font-size="3.8" font-weight="bold" textLength="23" lengthAdjust="spacingAndGlyphs">Fri 29 Dec '17</text><rect x="224.2" y="409.5" width="36" height="7.2" fill="#ea3a48"/><text x="228.0" y="414.6" fill="#fff" font-size="3.8" font-weight="bold">1l</text><text x="232.7" y="414.6" fill="#fff" font-size="3.8" font-weight="bold" textLength="23" lengthAdjust="spacingAndGlyphs">Mon 31 Dec '18</text><rect x="288.2" y="409.5" width="36" height="7.2" fill="#ea3a48"/><text x="292.0" y="414.6" fill="#fff" font-size="3.8" font-weight="bold">1l</text><text x="296.7" y="414.6" fill="#fff" font-size="3.8" font-weight="bold" textLength="23" lengthAdjust="spacingAndGlyphs">Tue 31 Dec '19</text><rect x="352.2" y="409.5" width="36" height="7.2" fill="#ea3a48"/><text x="356.0" y="414.6" fill="#fff" font-size="3.8" font-weight="bold">4l</text><text x="360.7" y="414.6" fill="#fff" font-size="3.8" font-weight="bold" textLength="23" lengthAdjust="spacingAndGlyphs">Thu 31 Dec '20</text><rect x="417.2" y="409.5" width="36" height="7.2" fill="#ea3a48"/><text x="421.0" y="414.6" fill="#fff" font-size="3.8" font-weight="bold">5l</text><text x="425.7" y="414.6" fill="#fff" font-size="3.8" font-weight="bold" textLength="23" lengthAdjust="spacingAndGlyphs">Fri 31 Dec '21</text><rect x="481.2" y="409.5" width="36" height="7.2" fill="#ea3a48"/><text x="485.0" y="414.6" fill="#fff" font-size="3.8" font-weight="bold">4l</text><text x="489.7" y="414.6" fill="#fff" font-size="3.8" font-weight="bold" textLength="23" lengthAdjust="spacingAndGlyphs">Fri 30 Dec '22</text><rect x="545.2" y="409.5" width="36" height="7.2" fill="#ea3a48"/><text x="549.0" y="414.6" fill="#fff" font-size="3.8" font-weight="bold">5l</text><text x="553.7" y="414.6" fill="#fff" font-size="3.8" font-weight="bold" textLength="23" lengthAdjust="spacingAndGlyphs">Fri 29 Dec '23</text><rect x="609.2" y="409.5" width="36" height="7.2" fill="#ea3a48"/><text x="613.0" y="414.6" fill="#fff" font-size="3.8" font-weight="bold">1l</text><text x="617.7" y="414.6" fill="#fff" font-size="3.8" font-weight="bold" textLength="23" lengthAdjust="spacingAndGlyphs">Tue 31 Dec '24</text>
  <text x="18.7" y="414.8" fill="#6a6d78" font-size="4" text-anchor="middle">Jul</text><text x="83.0" y="414.8" fill="#6a6d78" font-size="4" text-anchor="middle">Jul</text><text x="147.3" y="414.8" fill="#6a6d78" font-size="4" text-anchor="middle">Jul</text><text x="211.5" y="414.8" fill="#6a6d78" font-size="4" text-anchor="middle">Jul</text><text x="275.8" y="414.8" fill="#6a6d78" font-size="4" text-anchor="middle">Jul</text><text x="340.1" y="414.8" fill="#6a6d78" font-size="4" text-anchor="middle">Jul</text><text x="404.4" y="414.8" fill="#6a6d78" font-size="4" text-anchor="middle">Jul</text><text x="468.7" y="414.8" fill="#6a6d78" font-size="4" text-anchor="middle">Jul</text><text x="532.9" y="414.8" fill="#6a6d78" font-size="4" text-anchor="middle">Jul</text><text x="597.2" y="414.8" fill="#6a6d78" font-size="4" text-anchor="middle">Jul</text><text x="661.5" y="414.8" fill="#6a6d78" font-size="4" text-anchor="middle">Jul</text>
  <g fill="#50535c" font-size="4.2" font-weight="bold"><text x="698" y="401.0" textLength="17.8" lengthAdjust="spacingAndGlyphs">13,000.00</text><text x="698" y="391.1" textLength="17.8" lengthAdjust="spacingAndGlyphs">14,000.00</text><text x="698" y="381.1" textLength="17.8" lengthAdjust="spacingAndGlyphs">15,000.00</text><text x="698" y="371.1" textLength="17.8" lengthAdjust="spacingAndGlyphs">16,000.00</text><text x="698" y="361.1" textLength="17.8" lengthAdjust="spacingAndGlyphs">17,000.00</text><text x="698" y="351.1" textLength="17.8" lengthAdjust="spacingAndGlyphs">18,000.00</text><text x="698" y="341.2" textLength="17.8" lengthAdjust="spacingAndGlyphs">19,000.00</text><text x="698" y="331.2" textLength="17.8" lengthAdjust="spacingAndGlyphs">20,000.00</text><text x="698" y="321.2" textLength="17.8" lengthAdjust="spacingAndGlyphs">21,000.00</text><text x="698" y="311.2" textLength="17.8" lengthAdjust="spacingAndGlyphs">22,000.00</text><text x="698" y="301.2" textLength="17.8" lengthAdjust="spacingAndGlyphs">23,000.00</text><text x="698" y="291.3" textLength="17.8" lengthAdjust="spacingAndGlyphs">24,000.00</text><text x="698" y="281.3" textLength="17.8" lengthAdjust="spacingAndGlyphs">25,000.00</text><text x="698" y="271.3" textLength="17.8" lengthAdjust="spacingAndGlyphs">26,000.00</text><text x="698" y="261.3" textLength="17.8" lengthAdjust="spacingAndGlyphs">27,000.00</text><text x="698" y="251.3" textLength="17.8" lengthAdjust="spacingAndGlyphs">28,000.00</text><text x="698" y="241.4" textLength="17.8" lengthAdjust="spacingAndGlyphs">29,000.00</text><text x="698" y="231.4" textLength="17.8" lengthAdjust="spacingAndGlyphs">30,000.00</text><text x="698" y="221.4" textLength="17.8" lengthAdjust="spacingAndGlyphs">31,000.00</text><text x="698" y="211.4" textLength="17.8" lengthAdjust="spacingAndGlyphs">32,000.00</text><text x="698" y="201.4" textLength="17.8" lengthAdjust="spacingAndGlyphs">33,000.00</text><text x="698" y="191.5" textLength="17.8" lengthAdjust="spacingAndGlyphs">34,000.00</text><text x="698" y="181.5" textLength="17.8" lengthAdjust="spacingAndGlyphs">35,000.00</text><text x="698" y="171.5" textLength="17.8" lengthAdjust="spacingAndGlyphs">36,000.00</text><text x="698" y="161.5" textLength="17.8" lengthAdjust="spacingAndGlyphs">37,000.00</text><text x="698" y="151.5" textLength="17.8" lengthAdjust="spacingAndGlyphs">38,000.00</text><text x="698" y="141.6" textLength="17.8" lengthAdjust="spacingAndGlyphs">39,000.00</text><text x="698" y="131.6" textLength="17.8" lengthAdjust="spacingAndGlyphs">40,000.00</text><text x="698" y="121.6" textLength="17.8" lengthAdjust="spacingAndGlyphs">41,000.00</text><text x="698" y="111.6" textLength="17.8" lengthAdjust="spacingAndGlyphs">42,000.00</text><text x="698" y="101.6" textLength="17.8" lengthAdjust="spacingAndGlyphs">43,000.00</text><text x="698" y="91.7" textLength="17.8" lengthAdjust="spacingAndGlyphs">44,000.00</text><text x="698" y="81.7" textLength="17.8" lengthAdjust="spacingAndGlyphs">45,000.00</text><text x="698" y="71.7" textLength="17.8" lengthAdjust="spacingAndGlyphs">46,000.00</text><text x="698" y="61.7" textLength="17.8" lengthAdjust="spacingAndGlyphs">47,000.00</text><text x="698" y="51.7" textLength="17.8" lengthAdjust="spacingAndGlyphs">48,000.00</text><text x="698" y="41.8" textLength="17.8" lengthAdjust="spacingAndGlyphs">49,000.00</text><text x="698" y="31.8" textLength="17.8" lengthAdjust="spacingAndGlyphs">50,000.00</text><text x="698" y="21.8" textLength="17.8" lengthAdjust="spacingAndGlyphs">51,000.00</text></g>
  <text x="698" y="13" fill="#333" font-size="4.2">USD</text>
  <text x="712" y="13" fill="#666" font-size="3.5">&#9662;</text>
  <!-- bottom right -->
  <circle cx="690.2" cy="404.4" r="3.6" fill="#ecebf2"/>
  <circle cx="690.2" cy="404.4" r="3" fill="#d9475a"/>
  <rect x="687.2" y="403.2" width="6" height="0.8" fill="#fff"/>
  <rect x="687.2" y="405.2" width="6" height="0.8" fill="#fff"/>
  <path d="M690.2 401.4 A3 3 0 0 0 687.2 404.4 L690.2 404.4Z" fill="#3d4fa8"/>
  <text x="691.6" y="415" fill="#333" font-size="4" text-anchor="middle">2D</text>
  <circle cx="707.2" cy="413.6" r="2.2" fill="none" stroke="#777" stroke-width="0.5"/>
  <!-- TradingView logo -->
  <g fill="#131722">
    <path d="M14.5 399.6h5.2v4.8h-2v-3h-3.2z"/>
    <circle cx="21.3" cy="400.5" r="0.9"/>
    <path d="M22.6 399.6h2.4l-2.2 4.8h-2.3z"/>
    <text x="26.8" y="404.4" font-size="6.6" font-weight="bold" letter-spacing="-0.15">TradingView</text>
  </g>
  <!-- header legend -->
  <circle cx="16.1" cy="11.6" r="2.7" fill="#2c8fd8"/>
  <rect x="14.7" y="11.2" width="2.8" height="0.8" fill="#fff"/>
  <text x="20.2" y="13.3" fill="#333" font-size="4.9" textLength="105.3" lengthAdjust="spacingAndGlyphs">Dow Jones Industrial Average Index · 1D · TVC</text>
  <circle cx="132.3" cy="11.7" r="1.1" fill="#22ab94"/>
  <rect x="135.4" y="9.6" width="4.2" height="4.2" rx="1" fill="#f7b4c7"/>
  <text x="145" y="13.2" fill="#e35767" font-size="4.3">O47,971.31 H47,971.31 L47,611.92 C47,681.97 −183.22 (−0.38%)</text>
  <rect x="13.2" y="17.2" width="26.4" height="10.8" rx="1.5" fill="#fff" stroke="#e8a0a6" stroke-width="0.7"/>
  <text x="26.4" y="21.8" fill="#e35767" font-size="3.6" text-anchor="middle">47,681.97</text>
  <text x="26.4" y="26" fill="#e35767" font-size="3.3" text-anchor="middle">SELL</text>
  <text x="43.8" y="23.6" fill="#333" font-size="3.6">0.00</text>
  <rect x="51.8" y="17.2" width="25.4" height="10.8" rx="1.5" fill="#fff" stroke="#9fb4ee" stroke-width="0.7"/>
  <text x="64.5" y="21.8" fill="#3a5fd0" font-size="3.6" text-anchor="middle">47,681.97</text>
</svg>

<!-- INSET -->
<div class="abs" style="left:62px;top:24px;width:270px;height:180px;border:3.5px solid #d8161c;background:#fff;box-shadow:0 2px 3px rgba(0,0,0,0.15)"></div>
<svg class="abs" style="left:0;top:0" width="1024" height="449" viewBox="0 0 1024 449">
  <line x1="138" x2="138" y1="28" y2="200" stroke="#f0b4b4" stroke-width="0.8"/>
  <line x1="268.3" x2="268.3" y1="28" y2="200" stroke="#f0b4b4" stroke-width="0.8"/>
  <line x1="307.3" x2="307.3" y1="28" y2="200" stroke="#dfe2e8" stroke-width="0.6"/>
  <rect x="67.0" y="168.5" width="5.6" height="24.9" fill="#a6e4cc"/><rect x="73.0" y="169.6" width="6.5" height="23.8" fill="#a6e4cc"/><rect x="80.0" y="170.1" width="6.0" height="23.3" fill="#f9c6c6"/><rect x="86.5" y="170.1" width="6.2" height="23.3" fill="#f9c6c6"/><rect x="93.2" y="172.5" width="6.9" height="20.9" fill="#f9c6c6"/><rect x="100.7" y="173.9" width="6.2" height="19.5" fill="#a6e4cc"/><rect x="107.3" y="171.8" width="6.3" height="21.6" fill="#a6e4cc"/><rect x="114.2" y="164.2" width="6.6" height="29.2" fill="#a6e4cc"/><rect x="121.2" y="175.9" width="6.5" height="17.5" fill="#a6e4cc"/><rect x="128.2" y="182.6" width="6.3" height="10.8" fill="#f9c6c6"/><rect x="135.1" y="172.5" width="5.5" height="20.9" fill="#f9c6c6"/><rect x="141.1" y="168.5" width="7.0" height="24.9" fill="#a6e4cc"/><rect x="148.6" y="173.2" width="6.9" height="20.2" fill="#a6e4cc"/><rect x="155.9" y="174.5" width="6.2" height="18.9" fill="#f9c6c6"/><rect x="162.7" y="173.2" width="6.9" height="20.2" fill="#a6e4cc"/><rect x="170.1" y="173.9" width="6.0" height="19.5" fill="#f9c6c6"/><rect x="176.6" y="173.9" width="6.5" height="19.5" fill="#f9c6c6"/><rect x="183.6" y="173.9" width="6.2" height="19.5" fill="#a6e4cc"/><rect x="190.2" y="168.5" width="6.3" height="24.9" fill="#a6e4cc"/><rect x="197.1" y="170.8" width="5.4" height="22.6" fill="#a6e4cc"/><rect x="202.9" y="168.2" width="6.8" height="25.2" fill="#a6e4cc"/><rect x="210.2" y="168.2" width="7.0" height="25.2" fill="#a6e4cc"/><rect x="217.8" y="168.2" width="5.8" height="25.2" fill="#f9c6c6"/><rect x="224.1" y="171.8" width="7.0" height="21.6" fill="#a6e4cc"/><rect x="231.6" y="140.1" width="5.8" height="53.3" fill="#f9c6c6"/><rect x="237.8" y="172.9" width="6.5" height="20.5" fill="#a6e4cc"/><rect x="244.8" y="185.2" width="6.2" height="8.2" fill="#f9c6c6"/><rect x="251.6" y="180.3" width="6.3" height="13.1" fill="#a6e4cc"/><rect x="258.4" y="177.1" width="6.1" height="16.3" fill="#f9c6c6"/><rect x="264.9" y="177.1" width="6.2" height="16.3" fill="#f9c6c6"/><rect x="271.6" y="176.1" width="7.0" height="17.3" fill="#a6e4cc"/><rect x="279.1" y="171.2" width="6.5" height="22.2" fill="#a6e4cc"/><rect x="286.1" y="171.2" width="6.6" height="22.2" fill="#a6e4cc"/><rect x="293.2" y="171.2" width="6.5" height="22.2" fill="#a6e4cc"/><rect x="300.2" y="169.7" width="6.7" height="23.7" fill="#f9c6c6"/>
  <polyline points="66,170.5 100,171.5 140,170.8 180,171.4 230,170.2 270,172 307,171" fill="none" stroke="#b59a9a" stroke-width="0.5"/>
  <line x1="68.7" x2="68.7" y1="99.0" y2="117.0" stroke="#8fd9bd" stroke-width="0.5"/><rect x="66.9" y="101.2" width="3.6" height="13.3" fill="#fff" stroke="#8fd9bd" stroke-width="0.7"/><line x1="75.6" x2="75.6" y1="97.0" y2="104.0" stroke="#8fd9bd" stroke-width="0.5"/><rect x="73.8" y="98.3" width="3.6" height="4.0" fill="#fff" stroke="#8fd9bd" stroke-width="0.7"/><line x1="82.5" x2="82.5" y1="93.0" y2="108.0" stroke="#e35d5d" stroke-width="0.5"/><rect x="80.5" y="94.5" width="4" height="12.2" fill="#e35d5d"/><line x1="89.3" x2="89.3" y1="110.0" y2="126.8" stroke="#e35d5d" stroke-width="0.5"/><rect x="87.3" y="111.6" width="4" height="4.4" fill="#e35d5d"/><line x1="96.2" x2="96.2" y1="115.0" y2="124.0" stroke="#e35d5d" stroke-width="0.5"/><rect x="94.2" y="116.8" width="4" height="3.7" fill="#e35d5d"/><line x1="103.1" x2="103.1" y1="110.0" y2="120.0" stroke="#8fd9bd" stroke-width="0.5"/><rect x="101.3" y="111.6" width="3.6" height="3.6" fill="#fff" stroke="#8fd9bd" stroke-width="0.7"/><line x1="110.0" x2="110.0" y1="94.0" y2="110.0" stroke="#8fd9bd" stroke-width="0.5"/><rect x="108.2" y="95.6" width="3.6" height="12.7" fill="#fff" stroke="#8fd9bd" stroke-width="0.7"/><line x1="116.9" x2="116.9" y1="89.0" y2="97.0" stroke="#8fd9bd" stroke-width="0.5"/><rect x="115.1" y="91.2" width="3.6" height="3.8" fill="#fff" stroke="#8fd9bd" stroke-width="0.7"/><line x1="123.7" x2="123.7" y1="85.0" y2="90.0" stroke="#8fd9bd" stroke-width="0.5"/><rect x="121.9" y="87.3" width="3.6" height="1.2" fill="#fff" stroke="#8fd9bd" stroke-width="0.7"/><line x1="130.6" x2="130.6" y1="92.0" y2="98.0" stroke="#e35d5d" stroke-width="0.5"/><rect x="128.6" y="93.0" width="4" height="3.7" fill="#e35d5d"/><line x1="137.5" x2="137.5" y1="91.0" y2="121.0" stroke="#e35d5d" stroke-width="0.5"/><rect x="135.5" y="92.3" width="4" height="27.3" fill="#e35d5d"/><line x1="144.4" x2="144.4" y1="141.0" y2="157.0" stroke="#8fd9bd" stroke-width="0.5"/><rect x="142.6" y="142.3" width="3.6" height="1.0" fill="#fff" stroke="#8fd9bd" stroke-width="0.7"/><line x1="151.3" x2="151.3" y1="129.0" y2="137.0" stroke="#8fd9bd" stroke-width="0.5"/><rect x="149.5" y="130.7" width="3.6" height="1.0" fill="#fff" stroke="#8fd9bd" stroke-width="0.7"/><line x1="158.1" x2="158.1" y1="122.0" y2="133.0" stroke="#1fa46e" stroke-width="0.5"/><rect x="156.1" y="123.4" width="4" height="4.5" fill="#1fa46e"/><line x1="165.0" x2="165.0" y1="98.0" y2="116.0" stroke="#8fd9bd" stroke-width="0.5"/><rect x="163.2" y="99.6" width="3.6" height="14.9" fill="#fff" stroke="#8fd9bd" stroke-width="0.7"/><line x1="171.9" x2="171.9" y1="100.0" y2="111.0" stroke="#e35d5d" stroke-width="0.5"/><rect x="169.9" y="101.8" width="4" height="7.2" fill="#e35d5d"/><line x1="178.8" x2="178.8" y1="108.0" y2="114.0" stroke="#e35d5d" stroke-width="0.5"/><rect x="176.8" y="109.5" width="4" height="1.5" fill="#e35d5d"/><line x1="185.7" x2="185.7" y1="107.0" y2="116.0" stroke="#8fd9bd" stroke-width="0.5"/><rect x="183.9" y="108.5" width="3.6" height="3.8" fill="#fff" stroke="#8fd9bd" stroke-width="0.7"/><line x1="192.5" x2="192.5" y1="88.0" y2="112.0" stroke="#8fd9bd" stroke-width="0.5"/><rect x="190.7" y="89.4" width="3.6" height="20.6" fill="#fff" stroke="#8fd9bd" stroke-width="0.7"/><line x1="199.4" x2="199.4" y1="85.0" y2="95.0" stroke="#8fd9bd" stroke-width="0.5"/><rect x="197.6" y="89.5" width="3.6" height="1.0" fill="#fff" stroke="#8fd9bd" stroke-width="0.7"/><line x1="206.3" x2="206.3" y1="78.0" y2="88.0" stroke="#8fd9bd" stroke-width="0.5"/><rect x="204.5" y="81.6" width="3.6" height="3.6" fill="#fff" stroke="#8fd9bd" stroke-width="0.7"/><line x1="213.2" x2="213.2" y1="77.0" y2="85.0" stroke="#8fd9bd" stroke-width="0.5"/><rect x="211.4" y="79.0" width="3.6" height="4.0" fill="#fff" stroke="#8fd9bd" stroke-width="0.7"/><line x1="220.1" x2="220.1" y1="75.0" y2="83.0" stroke="#e35d5d" stroke-width="0.5"/><rect x="218.1" y="76.7" width="4" height="4.9" fill="#e35d5d"/><line x1="226.9" x2="226.9" y1="68.0" y2="80.0" stroke="#8fd9bd" stroke-width="0.5"/><rect x="225.1" y="69.6" width="3.6" height="8.9" fill="#fff" stroke="#8fd9bd" stroke-width="0.7"/><line x1="233.8" x2="233.8" y1="49.0" y2="65.0" stroke="#1fa46e" stroke-width="0.5"/><rect x="231.8" y="50.5" width="4" height="12.9" fill="#1fa46e"/><line x1="240.7" x2="240.7" y1="54.0" y2="62.0" stroke="#8fd9bd" stroke-width="0.5"/><rect x="238.9" y="55.6" width="3.6" height="4.4" fill="#fff" stroke="#8fd9bd" stroke-width="0.7"/><line x1="247.6" x2="247.6" y1="52.0" y2="60.0" stroke="#e35d5d" stroke-width="0.5"/><rect x="245.6" y="53.4" width="4" height="4.9" fill="#e35d5d"/><line x1="254.5" x2="254.5" y1="48.0" y2="58.0" stroke="#8fd9bd" stroke-width="0.5"/><rect x="252.7" y="49.6" width="3.6" height="6.7" fill="#fff" stroke="#8fd9bd" stroke-width="0.7"/><line x1="261.3" x2="261.3" y1="44.0" y2="48.0" stroke="#1fa46e" stroke-width="0.5"/><rect x="259.3" y="44.7" width="4" height="2.7" fill="#1fa46e"/><line x1="268.2" x2="268.2" y1="45.0" y2="64.0" stroke="#e35d5d" stroke-width="0.5"/><rect x="266.2" y="46.7" width="4" height="15.6" fill="#e35d5d"/><line x1="275.1" x2="275.1" y1="55.0" y2="69.0" stroke="#8fd9bd" stroke-width="0.5"/><rect x="273.3" y="56.3" width="3.6" height="11.1" fill="#fff" stroke="#8fd9bd" stroke-width="0.7"/><line x1="282.0" x2="282.0" y1="28.5" y2="50.0" stroke="#8fd9bd" stroke-width="0.5"/><rect x="280.2" y="29.0" width="3.6" height="18.8" fill="#fff" stroke="#8fd9bd" stroke-width="0.7"/><line x1="288.9" x2="288.9" y1="44.0" y2="60.0" stroke="#f2b0b0" stroke-width="0.5"/><rect x="287.1" y="48.3" width="3.6" height="7.3" fill="#fff" stroke="#f2b0b0" stroke-width="0.7"/><line x1="295.7" x2="295.7" y1="41.0" y2="65.0" stroke="#8fd9bd" stroke-width="0.5"/><rect x="293.9" y="42.2" width="3.6" height="20.8" fill="#fff" stroke="#8fd9bd" stroke-width="0.7"/><line x1="302.6" x2="302.6" y1="47.0" y2="54.0" stroke="#e35d5d" stroke-width="0.5"/><rect x="300.6" y="48.3" width="4" height="4.4" fill="#e35d5d"/>
  <circle cx="199.4" cy="70" r="2.6" fill="#2f80ed"/>
  <circle cx="199.4" cy="70" r="0.7" fill="#fff"/>
  <g fill="#6a6d78" font-size="3.4"><text x="310.5" y="35.7">28,800.00</text><text x="310.5" y="69.5">28,400.00</text><text x="310.5" y="85.7">28,200.00</text><text x="310.5" y="102.4">28,000.00</text><text x="310.5" y="119.1">27,800.00</text><text x="310.5" y="136.4">27,600.00</text><text x="310.5" y="153.4">27,400.00</text><text x="310.5" y="186.8">27,000.00</text></g>
  <rect x="307.5" y="50.4" width="19" height="4.6" fill="#4c74e0"/>
  <text x="309" y="54" fill="#fff" font-size="3.4">28,542.42</text>
  <rect x="307.5" y="166.8" width="19" height="4.4" fill="#f06a6a"/>
  <text x="309" y="170.2" fill="#fff" font-size="3.4">266.62M</text>
  <rect x="307.5" y="173.3" width="19" height="4.4" fill="#131722"/>
  <text x="309" y="176.7" fill="#fff" font-size="3.4">245.600M</text>
  <text x="70.8" y="188.8" fill="#111" font-size="7.6" font-weight="bold" letter-spacing="-0.3">Investing</text>
  <text x="102.5" y="188.8" fill="#666" font-size="3.6">.com</text>
  <rect x="66.6" y="194.2" width="20" height="5.2" fill="#d8161c"/>
  <text x="68" y="198.1" fill="#fff" font-size="3.3">2019-11-27</text>
  <rect x="128" y="194.2" width="19.7" height="5.2" fill="#d8161c"/>
  <text x="129.2" y="198.1" fill="#fff" font-size="3.3">2019-12-02</text>
  <rect x="258.1" y="194.2" width="20.3" height="5.2" fill="#d8161c"/>
  <text x="259.3" y="198.1" fill="#fff" font-size="3.3">2019-12-30</text>
  <text x="280" y="198.1" fill="#888" font-size="3.3">GMT</text>
  <text x="70.6" y="46.4" fill="#1d1d1d" font-size="17.8" textLength="77.6" lengthAdjust="spacingAndGlyphs">Dec 2019</text>
  <text x="70.6" y="70.9" fill="#111" font-size="15.5" font-weight="bold" textLength="55.8" lengthAdjust="spacingAndGlyphs">+1.74%</text>
  <!-- arrow -->
  <line x1="201" y1="203.2" x2="293" y2="242.6" stroke="#d8161c" stroke-width="3.2"/>
  <polygon points="301.5,246 290.2,247.2 294.8,236.5" fill="#d8161c"/>
</svg>

<svg class="abs" style="left:0;top:0" width="1024" height="449" viewBox="0 0 1024 449">
<defs>
  <linearGradient id="sky" x1="0" y1="0" x2="0" y2="1">
    <stop offset="0" stop-color="#7e9dbd"/><stop offset="0.5" stop-color="#95adc6"/><stop offset="1" stop-color="#a7bccd"/>
  </linearGradient>
  <linearGradient id="pole" x1="0" y1="0" x2="1" y2="0">
    <stop offset="0" stop-color="#8c8c8c"/><stop offset="0.45" stop-color="#e6e6e6"/><stop offset="1" stop-color="#7a7a7a"/>
  </linearGradient>
  <linearGradient id="cnred" x1="0" y1="0" x2="1" y2="0">
    <stop offset="0" stop-color="#e8482c"/><stop offset="0.5" stop-color="#d8301f"/><stop offset="1" stop-color="#c2161a"/>
  </linearGradient>
  <radialGradient id="face" cx="0.45" cy="0.45" r="0.6">
    <stop offset="0" stop-color="#bc9e96"/><stop offset="0.65" stop-color="#977a72"/><stop offset="1" stop-color="#5e4a45"/>
  </radialGradient>
  <filter id="bl" x="-50%" y="-50%" width="200%" height="200%"><feGaussianBlur stdDeviation="0.6"/></filter>
  <filter id="bl2" x="-50%" y="-50%" width="200%" height="200%"><feGaussianBlur stdDeviation="1.2"/></filter>
</defs>
<!-- ===== Article 1 ===== -->
<rect x="731.2" y="6.6" width="282.2" height="11.2" fill="#0c2163"/>
<g fill="#c9d0e4"><rect x="734" y="9.8" width="4" height="0.7"/><rect x="734" y="11.5" width="4" height="0.7"/><rect x="734" y="13.2" width="4" height="0.7"/></g>
<g>
  <ellipse cx="745" cy="10.6" rx="1" ry="2.2" fill="#f6b21b" transform="rotate(-40 745 10.6)"/>
  <ellipse cx="746.6" cy="9.6" rx="1" ry="2.2" fill="#ef6b2b" transform="rotate(-20 746.6 9.6)"/>
  <ellipse cx="748.1" cy="9.3" rx="1" ry="2.2" fill="#d9263f"/>
  <ellipse cx="749.6" cy="9.6" rx="1" ry="2.2" fill="#6e3a9c" transform="rotate(20 749.6 9.6)"/>
  <ellipse cx="751.1" cy="10.6" rx="1" ry="2.2" fill="#1f8fd6" transform="rotate(40 751.1 10.6)"/>
  <ellipse cx="752.2" cy="12" rx="0.9" ry="1.9" fill="#3aae49" transform="rotate(60 752.2 12)"/>
  <text x="748.1" y="16.4" fill="#fff" font-size="3.2" font-weight="bold" text-anchor="middle" textLength="10" lengthAdjust="spacingAndGlyphs">CNBC</text>
</g>
<g fill="#fff" font-size="3.6" font-weight="bold">
  <text x="760.9" y="13.1" textLength="17.6" lengthAdjust="spacingAndGlyphs">MARKETS</text>
  <text x="785" y="13.1" textLength="19" lengthAdjust="spacingAndGlyphs">BUSINESS</text>
  <text x="810.7" y="13.1" textLength="20.5" lengthAdjust="spacingAndGlyphs">INVESTING</text>
  <text x="837.8" y="13.1" textLength="10.2" lengthAdjust="spacingAndGlyphs">TECH</text>
  <text x="855" y="13.1" textLength="17.2" lengthAdjust="spacingAndGlyphs">POLITICS</text>
  <text x="878.9" y="13.1" textLength="11.5" lengthAdjust="spacingAndGlyphs">VIDEO</text>
  <text x="897.6" y="13.1" textLength="31.3" lengthAdjust="spacingAndGlyphs">INVESTING CLUB</text>
  <text x="940.9" y="13.1" textLength="8" lengthAdjust="spacingAndGlyphs">PRO</text>
  <text x="962.4" y="13.1" textLength="25.7" lengthAdjust="spacingAndGlyphs">LIVESTREAM</text>
</g>
<rect x="929" y="8" width="5" height="2" rx="1" fill="#3aa0d8"/>
<rect x="949.5" y="8" width="5" height="2" rx="1" fill="#29b28a"/>
<circle cx="960" cy="11.8" r="0.9" fill="#e23b3b"/>
<text x="762.8" y="33.4" fill="#3a3a3a" font-size="3.3" font-weight="bold" textLength="34" lengthAdjust="spacingAndGlyphs">WORLD ECONOMY</text>
<g fill="#111" font-size="12.4" font-weight="bold">
  <text x="762.7" y="49" textLength="246.2" lengthAdjust="spacingAndGlyphs">These 4 charts show how US-China</text>
  <text x="762.7" y="63" textLength="243.6" lengthAdjust="spacingAndGlyphs">trade has changed during the tariff</text>
  <text x="762.7" y="76.9" textLength="51.1" lengthAdjust="spacingAndGlyphs">dispute</text>
</g>
<text x="762.7" y="87" fill="#8a8a8a" font-size="2.9" textLength="161.3" lengthAdjust="spacingAndGlyphs">PUBLISHED WED, SEP 18 2019 9:18 AM EDT · UPDATED WED, SEP 18 2019 1:37 AM EDT</text>
<circle cx="768.5" cy="98" r="4.4" fill="#d9cfc8"/>
<ellipse cx="768.5" cy="97.5" rx="3.2" ry="3.6" fill="#3a2722"/>
<ellipse cx="768.8" cy="98.4" rx="1.9" ry="2.4" fill="#d8b3a2"/>
<text x="776.4" y="95.6" fill="#222" font-size="2.8" font-weight="bold" textLength="14" lengthAdjust="spacingAndGlyphs">Sea Noo Lee</text>
<text x="776.4" y="99.8" fill="#4a78c0" font-size="2.6" textLength="18" lengthAdjust="spacingAndGlyphs">@REPORTER_LEE</text>
<text x="920" y="96" fill="#999" font-size="2.6" textLength="9" lengthAdjust="spacingAndGlyphs">SHARE</text>
<g fill="#1d5fb4" font-weight="bold">
  <text x="935" y="96.6" font-size="4.6">f</text>
  <text x="944" y="96.6" font-size="4" fill="#1d5fb4">X</text>
  <text x="953.8" y="96.6" font-size="3.8">in</text>
  <rect x="964" y="93.1" width="4.5" height="3.2" rx="0.8"/>
</g>
<rect x="761.9" y="111.7" width="209.1" height="1.5" fill="#21508f"/>
<g fill="#17407f" font-size="3.8" font-weight="bold">
  <text x="762" y="125.4" textLength="8.6" lengthAdjust="spacingAndGlyphs">KEY</text>
  <text x="762" y="130" textLength="19.6" lengthAdjust="spacingAndGlyphs">POINTS</text>
</g>
<g fill="#3a3a3a" font-size="3.5" font-weight="bold">
  <circle cx="789.6" cy="123.9" r="0.6"/><circle cx="789.6" cy="142.3" r="0.6"/><circle cx="789.6" cy="161.1" r="0.6"/>
  <text x="794.3" y="125.3" textLength="167.9" lengthAdjust="spacingAndGlyphs">The trade war between the U.S. and China has lasted for more than one year — and</text>
  <text x="794.3" y="130.8" textLength="72" lengthAdjust="spacingAndGlyphs">a resolution is still nowhere in sight.</text>
  <text x="794.3" y="143.7" textLength="167.9" lengthAdjust="spacingAndGlyphs">The dispute is often cited by business executives and analysts as one of the biggest</text>
  <text x="794.3" y="149.3" textLength="58" lengthAdjust="spacingAndGlyphs">threats to the global economy.</text>
  <text x="794.3" y="162.5" textLength="168" lengthAdjust="spacingAndGlyphs">Such rocky relations between the U.S. and China have affected trade in very specific</text>
  <text x="794.3" y="168.5" textLength="10" lengthAdjust="spacingAndGlyphs">ways.</text>
</g>
<rect x="762" y="176.4" width="209" height="0.5" fill="#e4e4e4"/>
<!-- sidebar -->
<rect x="979.6" y="112.6" width="34" height="42.8" rx="1" fill="#fff" stroke="#efd6b0" stroke-width="0.6"/>
<rect x="983.4" y="116.3" width="30.2" height="12.5" rx="0.6" fill="#1f4fd6"/>
<circle cx="1000.5" cy="122.6" r="0.9" fill="#fff"/>
<text x="1003" y="123.8" fill="#fff" font-size="3.2" font-weight="bold">WATCH</text>
<text x="983.4" y="135.5" fill="#2a2a2a" font-size="2.6" font-weight="bold" textLength="24" lengthAdjust="spacingAndGlyphs">Points to Listen?</text>
<text x="983.4" y="142.3" fill="#777" font-size="2.4">NOW</text>
<text x="983.4" y="149.3" fill="#777" font-size="2.4">UP NEXT</text>
<rect x="979.5" y="162.7" width="34.4" height="74" fill="#f5f6f8"/>
<rect x="989.7" y="161" width="23.7" height="29.5" fill="#fff" opacity="0.9"/>
<text x="981.2" y="166.3" fill="#999" font-size="2.6">×</text>
<text x="1003" y="169" fill="#888" font-size="3.2">Adv</text>
<rect x="989.7" y="172.3" width="23.7" height="7.4" fill="#4285f4"/>
<text x="1003" y="177.6" fill="#fff" font-size="3.4">Stop</text>
<text x="1004.5" y="187.4" fill="#888" font-size="3.2">Why</text>
<!-- flags image -->
<g>
  <rect x="762.5" y="185.6" width="208.3" height="50" fill="url(#sky)"/>
  <rect x="779.8" y="187.4" width="6.2" height="48.2" fill="url(#pole)"/>
  <rect x="779" y="186.4" width="7.8" height="2.2" rx="1" fill="#8a8a8a"/>
  <polygon points="789.3,195.5 795.5,197.5 802.5,235.6 796,235.6" fill="#f0eeee"/>
  <polygon points="793.1,198.3 830,207 860,214 882.2,223.5 882.2,235.6 801.4,235.6" fill="url(#cnred)"/>
  <polygon points="822.3,218.5 824,223 829.5,223.4 825.2,226.3 826.9,231.3 822.3,228.2 817.7,231.3 819.4,226.3 815.1,223.4 820.6,223" fill="#efd94a"/>
  <polygon points="847,216.3 847.8,218.3 849.8,218.4 848.2,219.7 848.8,221.6 847,220.5 845.2,221.6 845.8,219.7 844.2,218.4 846.2,218.3" fill="#e9c93e"/>
  <polygon points="861.4,227.5 862.2,229.5 864.2,229.6 862.6,230.9 863.2,232.8 861.4,231.7 859.6,232.8 860.2,230.9 858.6,229.6 860.6,229.5" fill="#e9c93e"/>
  <rect x="880.8" y="187.4" width="5" height="48.2" fill="url(#pole)"/>
  <rect x="880" y="186.4" width="6.6" height="2.2" rx="1" fill="#8a8a8a"/>
  <polygon points="942,216.2 970.8,222.4 970.8,235.6 942,235.6" fill="#f4f0f0"/>
  <polygon points="942,217.5 970.8,223.7 970.8,226.3 942,220.2" fill="#cc2a30"/>
  <polygon points="942,222.8 970.8,229 970.8,231.6 942,225.5" fill="#cc2a30"/>
  <polygon points="942,228.2 970.8,234.4 970.8,235.6 942,235.6 942,231" fill="#cc2a30"/>
  <polygon points="885.3,191.2 910,199.5 942.2,216.2 942.2,232 885.3,232" fill="#262a86"/>
  <rect x="885.3" y="232" width="57" height="3.6" fill="#eeeef4"/>
  <g fill="#f2f2f8">
    <circle cx="891" cy="199" r="0.9"/><circle cx="897" cy="200.5" r="0.9"/><circle cx="903" cy="202.5" r="0.9"/><circle cx="909" cy="204.5" r="0.9"/><circle cx="915" cy="206.5" r="0.9"/><circle cx="921" cy="209" r="0.9"/><circle cx="927" cy="211.5" r="0.9"/>
    <circle cx="894" cy="204" r="0.9"/><circle cx="900" cy="206" r="0.9"/><circle cx="906" cy="208" r="0.9"/><circle cx="912" cy="210" r="0.9"/><circle cx="918" cy="212.5" r="0.9"/><circle cx="924" cy="215" r="0.9"/><circle cx="930" cy="217" r="0.9"/><circle cx="936" cy="219" r="0.9"/>
    <circle cx="891" cy="209" r="0.9"/><circle cx="897" cy="211" r="0.9"/><circle cx="903" cy="213" r="0.9"/><circle cx="909" cy="215" r="0.9"/><circle cx="915" cy="217" r="0.9"/><circle cx="921" cy="219.5" r="0.9"/><circle cx="927" cy="221.5" r="0.9"/><circle cx="933" cy="223.5" r="0.9"/><circle cx="939" cy="225" r="0.9"/>
    <circle cx="894" cy="214.5" r="0.9"/><circle cx="900" cy="216.5" r="0.9"/><circle cx="906" cy="218.5" r="0.9"/><circle cx="912" cy="220.5" r="0.9"/><circle cx="918" cy="222.5" r="0.9"/><circle cx="924" cy="224.5" r="0.9"/><circle cx="930" cy="226.5" r="0.9"/><circle cx="936" cy="228.5" r="0.9"/>
    <circle cx="891" cy="220" r="0.9"/><circle cx="897" cy="222" r="0.9"/><circle cx="903" cy="224" r="0.9"/><circle cx="909" cy="226" r="0.9"/><circle cx="915" cy="228" r="0.9"/><circle cx="921" cy="229.5" r="0.9"/>
    <circle cx="894" cy="226" r="0.9"/><circle cx="900" cy="228" r="0.9"/><circle cx="906" cy="229.5" r="0.9"/>
  </g>
</g>
<!-- ===== Article 2 ===== -->
<rect x="731.2" y="242.5" width="282.5" height="9.3" fill="#0a5298"/>
<g fill="#d6e2f2"><rect x="758.3" y="245.3" width="3.6" height="0.6"/><rect x="758.3" y="246.8" width="3.6" height="0.6"/><rect x="758.3" y="248.3" width="3.6" height="0.6"/></g>
<g>
  <ellipse cx="769.6" cy="246.6" rx="0.9" ry="1.9" fill="#f6b21b" transform="rotate(-40 769.6 246.6)"/>
  <ellipse cx="771" cy="245.8" rx="0.9" ry="1.9" fill="#ef6b2b" transform="rotate(-20 771 245.8)"/>
  <ellipse cx="772.5" cy="245.5" rx="0.9" ry="1.9" fill="#d9263f"/>
  <ellipse cx="774" cy="245.8" rx="0.9" ry="1.9" fill="#6e3a9c" transform="rotate(20 774 245.8)"/>
  <ellipse cx="775.4" cy="246.6" rx="0.9" ry="1.9" fill="#1f8fd6" transform="rotate(40 775.4 246.6)"/>
  <ellipse cx="776.4" cy="247.8" rx="0.8" ry="1.6" fill="#3aae49" transform="rotate(60 776.4 247.8)"/>
  <rect x="768" y="248.3" width="9" height="2" fill="#e8eef8" opacity="0.8"/>
</g>
<g fill="#fff" font-size="3.3" font-weight="bold">
  <text x="782.1" y="248.4" textLength="14.9" lengthAdjust="spacingAndGlyphs">MARKETS</text>
  <text x="801.9" y="248.4" textLength="15.4" lengthAdjust="spacingAndGlyphs">BUSINESS</text>
  <text x="822.4" y="248.4" textLength="16.9" lengthAdjust="spacingAndGlyphs">INVESTING</text>
  <text x="844.8" y="248.4" textLength="7.6" lengthAdjust="spacingAndGlyphs">TECH</text>
  <text x="857.6" y="248.4" textLength="14.6" lengthAdjust="spacingAndGlyphs">POLITICS</text>
  <text x="876.8" y="248.4" textLength="13.6" lengthAdjust="spacingAndGlyphs">CNBC TV</text>
  <text x="896" y="248.4" textLength="17.7" lengthAdjust="spacingAndGlyphs">WATCHLIST</text>
  <text x="919" y="248.4" textLength="6.3" lengthAdjust="spacingAndGlyphs">PRO</text>
  <circle cx="927" cy="247.3" r="0.9"/>
</g>
<text x="780.7" y="255.9" fill="#3a3a3a" font-size="2.8" font-weight="bold" textLength="26.3" lengthAdjust="spacingAndGlyphs">FEDERAL RESERVE</text>
<text x="780.7" y="268" fill="#111" font-size="9.6" font-weight="bold" textLength="200.2" lengthAdjust="spacingAndGlyphs">Fed sees no action on rates until 2021</text>
<text x="780.7" y="275.8" fill="#8a8a8a" font-size="2.4" textLength="121.7" lengthAdjust="spacingAndGlyphs">PUBLISHED WED, SEP 18 2019 2:00 PM EDT · UPDATED WED, SEP 18 2019 2:32 PM EDT</text>
<circle cx="784.8" cy="284.8" r="3.5" fill="#333"/>
<ellipse cx="784.8" cy="284.4" rx="1.6" ry="2" fill="#6c6c6c"/>
<text x="790.9" y="283" fill="#222" font-size="2.4" font-weight="bold" textLength="16" lengthAdjust="spacingAndGlyphs">Spencer Kimball</text>
<text x="790.9" y="286.1" fill="#999" font-size="2.2" textLength="17" lengthAdjust="spacingAndGlyphs">@SPENCERKIMBALL</text>
<text x="780.7" y="298.6" fill="#999" font-size="2.3" textLength="7.5" lengthAdjust="spacingAndGlyphs">SHARE</text>
<g fill="#1d5fb4" font-weight="bold">
  <text x="792" y="299.2" font-size="3.8">f</text>
  <text x="798.8" y="299.2" font-size="3.6">t</text>
  <text x="806.4" y="299.2" font-size="3.2">in</text>
  <rect x="813.2" y="296.3" width="3.6" height="2.6" rx="0.6"/>
</g>
<rect x="779.8" y="303.2" width="158.6" height="1.3" fill="#4f74a0"/>
<g fill="#17407f" font-size="3.2" font-weight="bold">
  <text x="780" y="313.7" textLength="6.8" lengthAdjust="spacingAndGlyphs">KEY</text>
  <text x="780" y="317.2" textLength="15" lengthAdjust="spacingAndGlyphs">POINTS</text>
</g>
<g fill="#3a3a3a" font-size="2.8" font-weight="bold">
  <circle cx="800.9" cy="312.4" r="0.5"/><circle cx="800.9" cy="323.1" r="0.5"/>
  <text x="804.2" y="313.6" textLength="112.7" lengthAdjust="spacingAndGlyphs">The Federal Reserve forecasts no action on its main interest rate next year.</text>
  <text x="804.2" y="324.3" textLength="126.8" lengthAdjust="spacingAndGlyphs">The central bank's median rate is forecast to hold steady at 1.6% through the end of</text>
  <text x="804.2" y="328.3" textLength="58.6" lengthAdjust="spacingAndGlyphs">2020, but will increase to 1.9% in 2021.</text>
</g>
<rect x="780" y="335.8" width="158.4" height="0.4" fill="#e4e4e4"/>
<!-- photo -->
<g>
  <rect x="780" y="342.1" width="158.2" height="84.2" fill="#050505"/>
  <svg x="780" y="342.1" width="158.2" height="84.2" overflow="hidden" viewBox="780 342.1 158.2 84.2">
  <g fill="#fff" filter="url(#bl)">
    <circle cx="793" cy="368" r="4.3"/><circle cx="828.6" cy="374" r="4.3"/><circle cx="908" cy="386.7" r="4.4"/>
    <circle cx="930.8" cy="390.2" r="4"/><circle cx="930.6" cy="347.5" r="4.8"/><circle cx="900.3" cy="342.6" r="3"/>
  </g>
  <g filter="url(#bl)">
    <path d="M861 428 Q862 408 868 399 L884 396 Q898 393 912 393.5 Q930 394 940 397 L940 428Z" fill="#101219"/>
    <path d="M893 395.5 Q913 392.5 933 396 L936 399 Q915 395.5 895 397.5Z" fill="#2a2f40" opacity="0.8"/>
    <path d="M856 390 Q860 398 868 401 L878 400 L884 393 L882 386 L862 386Z" fill="#7a6058"/>
    <path d="M869 400 L880 396.5 L887 399 L887 426.3 L868.5 426.3 Z" fill="#e6e6ea"/>
    <path d="M872.3 406 L878.2 405 L880.5 426.3 L871 426.3Z" fill="#92b3da"/>
    <path d="M880 400 L889 396 L893 428 L885 428Z" fill="#171a24"/>
    <path d="M850.5 371 Q849 384 855 392 Q861 398.5 869 398 Q879 396 883.5 386 Q887 376 884.5 368 Q877 360.5 865 360.5 Q853 362 850.5 371Z" fill="url(#face)"/>
    <path d="M879 368 Q887 370 887.5 379 Q886 389 881 393 Q883 381 879 368Z" fill="#5a4642"/>
    <path d="M848.8 373 Q848 361 860 358.5 Q876 356.5 886.5 368 L886.5 375 Q884 368.5 877 366.5 Q866 364.5 857 368 Q852.5 370.5 851 377Z" fill="#b2b2b4"/>
    <path d="M856 361 Q866 358.5 878 361" stroke="#d0d0d2" stroke-width="1.2" fill="none"/>
    <path d="M852.5 376.5 Q856.5 374 861 376" stroke="#3a2a27" stroke-width="1.5" fill="none"/>
    <path d="M866 375.5 Q870.5 373 875.5 375" stroke="#3a2a27" stroke-width="1.5" fill="none"/>
    <ellipse cx="857" cy="378.6" rx="2.2" ry="0.9" fill="#5a4440"/>
    <ellipse cx="870.5" cy="378" rx="2.2" ry="0.9" fill="#5a4440"/>
    <path d="M861 380 Q860 385 862 386 Q865 386.5 866 385" stroke="#6a504a" stroke-width="0.9" fill="none"/>
    <path d="M856.5 390.5 Q862 392 868.5 390" stroke="#4a3632" stroke-width="1.1" fill="none"/>
    <path d="M853 388 Q857 396 866 397 L862 398.5 Q855 396 853 388Z" fill="#6e5650"/>
  </g>
  </svg>
</g>
</svg>

</body></html>
